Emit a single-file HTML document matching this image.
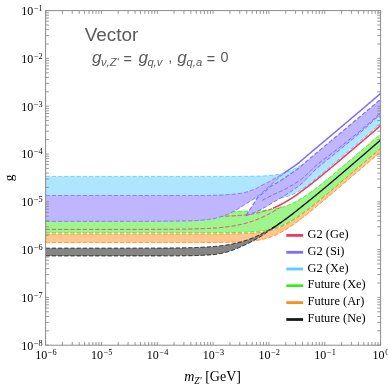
<!DOCTYPE html><html><head><meta charset="utf-8"><title>Vector</title><style>
html,body{margin:0;padding:0;background:#fff;}
#c{position:relative;width:388px;height:388px;overflow:hidden;background:#fff;font-family:"Liberation Serif",serif;color:#000;}
.t{position:absolute;white-space:nowrap;line-height:1;filter:grayscale(1);}
.yl{font-size:12px;text-align:right;width:60px;}
.xl{font-size:12px;text-align:center;width:60px;}
sup{font-size:8.3px;vertical-align:baseline;position:relative;top:-3.9px;letter-spacing:0;margin-left:0.7px}
.lg{font-size:12.4px;left:307.6px;}
.sans{font-family:"Liberation Sans",sans-serif;color:#5a5a5a;}
</style></head><body><div id="c">
<svg width="388" height="388" viewBox="0 0 388 388" style="position:absolute;left:0;top:0">
<defs><clipPath id="cp"><rect x="45.6" y="10.6" width="335.0" height="334.59999999999997"/></clipPath></defs>
<g clip-path="url(#cp)">
<path d="M45.60,176.40 L46.60,176.40 L47.60,176.40 L48.60,176.40 L49.60,176.40 L50.60,176.40 L51.60,176.40 L52.60,176.40 L53.60,176.40 L54.60,176.40 L55.60,176.40 L56.60,176.40 L57.60,176.40 L58.60,176.40 L59.60,176.40 L60.60,176.40 L61.60,176.40 L62.60,176.40 L63.60,176.40 L64.60,176.40 L65.60,176.40 L66.60,176.40 L67.60,176.40 L68.60,176.40 L69.60,176.40 L70.60,176.40 L71.60,176.40 L72.60,176.40 L73.60,176.40 L74.60,176.40 L75.60,176.40 L76.60,176.40 L77.60,176.40 L78.60,176.40 L79.60,176.40 L80.60,176.40 L81.60,176.40 L82.60,176.40 L83.60,176.40 L84.60,176.40 L85.60,176.40 L86.60,176.40 L87.60,176.40 L88.60,176.40 L89.60,176.40 L90.60,176.40 L91.60,176.40 L92.60,176.40 L93.60,176.40 L94.60,176.40 L95.60,176.40 L96.60,176.40 L97.60,176.40 L98.60,176.40 L99.60,176.40 L100.60,176.40 L101.60,176.40 L102.60,176.40 L103.60,176.40 L104.60,176.40 L105.60,176.40 L106.60,176.40 L107.60,176.40 L108.60,176.40 L109.60,176.40 L110.60,176.40 L111.60,176.40 L112.60,176.40 L113.60,176.40 L114.60,176.40 L115.60,176.40 L116.60,176.40 L117.60,176.40 L118.60,176.40 L119.60,176.40 L120.60,176.40 L121.60,176.40 L122.60,176.40 L123.60,176.40 L124.60,176.40 L125.60,176.40 L126.60,176.40 L127.60,176.40 L128.60,176.40 L129.60,176.40 L130.60,176.40 L131.60,176.40 L132.60,176.40 L133.60,176.40 L134.60,176.40 L135.60,176.40 L136.60,176.40 L137.60,176.40 L138.60,176.40 L139.60,176.40 L140.60,176.40 L141.60,176.40 L142.60,176.40 L143.60,176.40 L144.60,176.40 L145.60,176.40 L146.60,176.40 L147.60,176.40 L148.60,176.40 L149.60,176.40 L150.60,176.40 L151.60,176.40 L152.60,176.40 L153.60,176.40 L154.60,176.40 L155.60,176.40 L156.60,176.40 L157.60,176.40 L158.60,176.40 L159.60,176.40 L160.60,176.40 L161.60,176.40 L162.60,176.40 L163.60,176.40 L164.60,176.40 L165.60,176.40 L166.60,176.40 L167.60,176.40 L168.60,176.40 L169.60,176.40 L170.60,176.40 L171.60,176.40 L172.60,176.40 L173.60,176.40 L174.60,176.40 L175.60,176.40 L176.60,176.40 L177.60,176.40 L178.60,176.40 L179.60,176.40 L180.60,176.40 L181.60,176.40 L182.60,176.40 L183.60,176.40 L184.60,176.40 L185.60,176.40 L186.60,176.40 L187.60,176.40 L188.60,176.40 L189.60,176.40 L190.60,176.40 L191.60,176.40 L192.60,176.40 L193.60,176.40 L194.60,176.40 L195.60,176.40 L196.60,176.40 L197.60,176.40 L198.60,176.40 L199.60,176.40 L200.60,176.40 L201.60,176.40 L202.60,176.40 L203.60,176.40 L204.60,176.40 L205.60,176.40 L206.60,176.40 L207.60,176.40 L208.60,176.40 L209.60,176.40 L210.60,176.40 L211.60,176.40 L212.60,176.40 L213.60,176.40 L214.60,176.40 L215.60,176.40 L216.60,176.40 L217.60,176.40 L218.60,176.40 L219.60,176.39 L220.60,176.39 L221.60,176.39 L222.60,176.39 L223.60,176.39 L224.60,176.39 L225.60,176.39 L226.60,176.39 L227.60,176.39 L228.60,176.39 L229.60,176.38 L230.60,176.38 L231.60,176.38 L232.60,176.38 L233.60,176.38 L234.60,176.37 L235.60,176.37 L236.60,176.37 L237.60,176.37 L238.60,176.36 L239.60,176.36 L240.60,176.35 L241.60,176.35 L242.60,176.34 L243.60,176.34 L244.60,176.33 L245.60,176.32 L246.60,176.31 L247.60,176.30 L248.60,176.29 L249.60,176.28 L250.60,176.27 L251.60,176.26 L252.60,176.24 L253.60,176.22 L254.60,176.20 L255.60,176.18 L256.60,176.16 L257.60,176.13 L258.60,176.10 L259.60,176.07 L260.60,176.04 L261.60,176.00 L262.60,175.96 L263.60,175.91 L264.60,175.86 L265.60,175.80 L266.60,175.74 L267.60,175.67 L268.60,175.60 L269.60,175.51 L270.60,175.42 L271.60,175.32 L272.60,175.21 L273.60,175.09 L274.60,174.96 L275.60,174.82 L276.60,174.67 L277.60,174.50 L278.60,174.32 L279.60,174.12 L280.60,173.91 L281.60,173.68 L282.60,173.43 L283.60,173.16 L284.60,172.87 L285.60,172.57 L286.60,172.24 L287.60,171.89 L288.60,171.52 L289.60,171.13 L290.60,170.72 L291.60,170.28 L292.60,169.83 L293.60,169.35 L294.60,168.85 L295.60,168.33 L296.60,167.78 L297.60,167.22 L298.60,166.64 L299.60,166.04 L300.60,165.42 L301.60,164.78 L302.60,164.13 L303.60,163.46 L304.60,162.78 L305.60,162.08 L306.60,161.37 L307.60,160.65 L308.60,159.91 L309.60,159.17 L310.60,158.42 L311.60,157.65 L312.60,156.88 L313.60,156.11 L314.60,155.32 L315.60,154.53 L316.60,153.73 L317.60,152.93 L318.60,152.12 L319.60,151.31 L320.60,150.49 L321.60,149.67 L322.60,148.85 L323.60,148.02 L324.60,147.19 L325.60,146.36 L326.60,145.53 L327.60,144.69 L328.60,143.85 L329.60,143.01 L330.60,142.17 L331.60,141.33 L332.60,140.48 L333.60,139.64 L334.60,138.79 L335.60,137.94 L336.60,137.10 L337.60,136.25 L338.60,135.40 L339.60,134.55 L340.60,133.70 L341.60,132.84 L342.60,131.99 L343.60,131.14 L344.60,130.29 L345.60,129.44 L346.60,128.58 L347.60,127.73 L348.60,126.87 L349.60,126.02 L350.60,125.17 L351.60,124.31 L352.60,123.46 L353.60,122.60 L354.60,121.75 L355.60,120.89 L356.60,120.04 L357.60,119.18 L358.60,118.33 L359.60,117.47 L360.60,116.62 L361.60,115.76 L362.60,114.91 L363.60,114.05 L364.60,113.19 L365.60,112.34 L366.60,111.48 L367.60,110.63 L368.60,109.77 L369.60,108.91 L370.60,108.06 L371.60,107.20 L372.60,106.35 L373.60,105.49 L374.60,104.64 L375.60,103.78 L376.60,102.92 L377.60,102.07 L378.60,101.21 L379.60,100.36 L380.60,99.50 L380.60,123.50 L379.60,124.36 L378.60,125.21 L377.60,126.07 L376.60,126.92 L375.60,127.78 L374.60,128.64 L373.60,129.49 L372.60,130.35 L371.60,131.20 L370.60,132.06 L369.60,132.92 L368.60,133.77 L367.60,134.63 L366.60,135.49 L365.60,136.34 L364.60,137.20 L363.60,138.05 L362.60,138.91 L361.60,139.77 L360.60,140.62 L359.60,141.48 L358.60,142.33 L357.60,143.19 L356.60,144.04 L355.60,144.90 L354.60,145.76 L353.60,146.61 L352.60,147.47 L351.60,148.32 L350.60,149.18 L349.60,150.03 L348.60,150.89 L347.60,151.74 L346.60,152.60 L345.60,153.46 L344.60,154.31 L343.60,155.16 L342.60,156.02 L341.60,156.87 L340.60,157.73 L339.60,158.58 L338.60,159.44 L337.60,160.29 L336.60,161.14 L335.60,161.99 L334.60,162.85 L333.60,163.70 L332.60,164.55 L331.60,165.40 L330.60,166.25 L329.60,167.10 L328.60,167.95 L327.60,168.79 L326.60,169.64 L325.60,170.48 L324.60,171.32 L323.60,172.16 L322.60,173.00 L321.60,173.84 L320.60,174.67 L319.60,175.50 L318.60,176.33 L317.60,177.16 L316.60,177.98 L315.60,178.79 L314.60,179.60 L313.60,180.41 L312.60,181.21 L311.60,182.00 L310.60,182.78 L309.60,183.56 L308.60,184.32 L307.60,185.08 L306.60,185.82 L305.60,186.55 L304.60,187.27 L303.60,187.97 L302.60,188.66 L301.60,189.33 L300.60,189.98 L299.60,190.61 L298.60,191.21 L297.60,191.80 L296.60,192.36 L295.60,192.90 L294.60,193.42 L293.60,193.90 L292.60,194.36 L291.60,194.80 L290.60,195.21 L289.60,195.59 L288.60,195.95 L287.60,196.28 L286.60,196.59 L285.60,196.87 L284.60,197.13 L283.60,197.37 L282.60,197.58 L281.60,197.78 L280.60,197.96 L279.60,198.12 L278.60,198.27 L277.60,198.40 L276.60,198.52 L275.60,198.63 L274.60,198.72 L273.60,198.81 L272.60,198.89 L271.60,198.96 L270.60,199.02 L269.60,199.07 L268.60,199.12 L267.60,199.16 L266.60,199.20 L265.60,199.24 L264.60,199.27 L263.60,199.29 L262.60,199.32 L261.60,199.34 L260.60,199.36 L259.60,199.37 L258.60,199.39 L257.60,199.40 L256.60,199.41 L255.60,199.42 L254.60,199.43 L253.60,199.44 L252.60,199.45 L251.60,199.45 L250.60,199.46 L249.60,199.46 L248.60,199.47 L247.60,199.47 L246.60,199.47 L245.60,199.48 L244.60,199.48 L243.60,199.48 L242.60,199.48 L241.60,199.49 L240.60,199.49 L239.60,199.49 L238.60,199.49 L237.60,199.49 L236.60,199.49 L235.60,199.49 L234.60,199.49 L233.60,199.49 L232.60,199.50 L231.60,199.50 L230.60,199.50 L229.60,199.50 L228.60,199.50 L227.60,199.50 L226.60,199.50 L225.60,199.50 L224.60,199.50 L223.60,199.50 L222.60,199.50 L221.60,199.50 L220.60,199.50 L219.60,199.50 L218.60,199.50 L217.60,199.50 L216.60,199.50 L215.60,199.50 L214.60,199.50 L213.60,199.50 L212.60,199.50 L211.60,199.50 L210.60,199.50 L209.60,199.50 L208.60,199.50 L207.60,199.50 L206.60,199.50 L205.60,199.50 L204.60,199.50 L203.60,199.50 L202.60,199.50 L201.60,199.50 L200.60,199.50 L199.60,199.50 L198.60,199.50 L197.60,199.50 L196.60,199.50 L195.60,199.50 L194.60,199.50 L193.60,199.50 L192.60,199.50 L191.60,199.50 L190.60,199.50 L189.60,199.50 L188.60,199.50 L187.60,199.50 L186.60,199.50 L185.60,199.50 L184.60,199.50 L183.60,199.50 L182.60,199.50 L181.60,199.50 L180.60,199.50 L179.60,199.50 L178.60,199.50 L177.60,199.50 L176.60,199.50 L175.60,199.50 L174.60,199.50 L173.60,199.50 L172.60,199.50 L171.60,199.50 L170.60,199.50 L169.60,199.50 L168.60,199.50 L167.60,199.50 L166.60,199.50 L165.60,199.50 L164.60,199.50 L163.60,199.50 L162.60,199.50 L161.60,199.50 L160.60,199.50 L159.60,199.50 L158.60,199.50 L157.60,199.50 L156.60,199.50 L155.60,199.50 L154.60,199.50 L153.60,199.50 L152.60,199.50 L151.60,199.50 L150.60,199.50 L149.60,199.50 L148.60,199.50 L147.60,199.50 L146.60,199.50 L145.60,199.50 L144.60,199.50 L143.60,199.50 L142.60,199.50 L141.60,199.50 L140.60,199.50 L139.60,199.50 L138.60,199.50 L137.60,199.50 L136.60,199.50 L135.60,199.50 L134.60,199.50 L133.60,199.50 L132.60,199.50 L131.60,199.50 L130.60,199.50 L129.60,199.50 L128.60,199.50 L127.60,199.50 L126.60,199.50 L125.60,199.50 L124.60,199.50 L123.60,199.50 L122.60,199.50 L121.60,199.50 L120.60,199.50 L119.60,199.50 L118.60,199.50 L117.60,199.50 L116.60,199.50 L115.60,199.50 L114.60,199.50 L113.60,199.50 L112.60,199.50 L111.60,199.50 L110.60,199.50 L109.60,199.50 L108.60,199.50 L107.60,199.50 L106.60,199.50 L105.60,199.50 L104.60,199.50 L103.60,199.50 L102.60,199.50 L101.60,199.50 L100.60,199.50 L99.60,199.50 L98.60,199.50 L97.60,199.50 L96.60,199.50 L95.60,199.50 L94.60,199.50 L93.60,199.50 L92.60,199.50 L91.60,199.50 L90.60,199.50 L89.60,199.50 L88.60,199.50 L87.60,199.50 L86.60,199.50 L85.60,199.50 L84.60,199.50 L83.60,199.50 L82.60,199.50 L81.60,199.50 L80.60,199.50 L79.60,199.50 L78.60,199.50 L77.60,199.50 L76.60,199.50 L75.60,199.50 L74.60,199.50 L73.60,199.50 L72.60,199.50 L71.60,199.50 L70.60,199.50 L69.60,199.50 L68.60,199.50 L67.60,199.50 L66.60,199.50 L65.60,199.50 L64.60,199.50 L63.60,199.50 L62.60,199.50 L61.60,199.50 L60.60,199.50 L59.60,199.50 L58.60,199.50 L57.60,199.50 L56.60,199.50 L55.60,199.50 L54.60,199.50 L53.60,199.50 L52.60,199.50 L51.60,199.50 L50.60,199.50 L49.60,199.50 L48.60,199.50 L47.60,199.50 L46.60,199.50 L45.60,199.50Z" fill="#AEE6FF"/>
<path d="M45.60,176.40 L46.60,176.40 L47.60,176.40 L48.60,176.40 L49.60,176.40 L50.60,176.40 L51.60,176.40 L52.60,176.40 L53.60,176.40 L54.60,176.40 L55.60,176.40 L56.60,176.40 L57.60,176.40 L58.60,176.40 L59.60,176.40 L60.60,176.40 L61.60,176.40 L62.60,176.40 L63.60,176.40 L64.60,176.40 L65.60,176.40 L66.60,176.40 L67.60,176.40 L68.60,176.40 L69.60,176.40 L70.60,176.40 L71.60,176.40 L72.60,176.40 L73.60,176.40 L74.60,176.40 L75.60,176.40 L76.60,176.40 L77.60,176.40 L78.60,176.40 L79.60,176.40 L80.60,176.40 L81.60,176.40 L82.60,176.40 L83.60,176.40 L84.60,176.40 L85.60,176.40 L86.60,176.40 L87.60,176.40 L88.60,176.40 L89.60,176.40 L90.60,176.40 L91.60,176.40 L92.60,176.40 L93.60,176.40 L94.60,176.40 L95.60,176.40 L96.60,176.40 L97.60,176.40 L98.60,176.40 L99.60,176.40 L100.60,176.40 L101.60,176.40 L102.60,176.40 L103.60,176.40 L104.60,176.40 L105.60,176.40 L106.60,176.40 L107.60,176.40 L108.60,176.40 L109.60,176.40 L110.60,176.40 L111.60,176.40 L112.60,176.40 L113.60,176.40 L114.60,176.40 L115.60,176.40 L116.60,176.40 L117.60,176.40 L118.60,176.40 L119.60,176.40 L120.60,176.40 L121.60,176.40 L122.60,176.40 L123.60,176.40 L124.60,176.40 L125.60,176.40 L126.60,176.40 L127.60,176.40 L128.60,176.40 L129.60,176.40 L130.60,176.40 L131.60,176.40 L132.60,176.40 L133.60,176.40 L134.60,176.40 L135.60,176.40 L136.60,176.40 L137.60,176.40 L138.60,176.40 L139.60,176.40 L140.60,176.40 L141.60,176.40 L142.60,176.40 L143.60,176.40 L144.60,176.40 L145.60,176.40 L146.60,176.40 L147.60,176.40 L148.60,176.40 L149.60,176.40 L150.60,176.40 L151.60,176.40 L152.60,176.40 L153.60,176.40 L154.60,176.40 L155.60,176.40 L156.60,176.40 L157.60,176.40 L158.60,176.40 L159.60,176.40 L160.60,176.40 L161.60,176.40 L162.60,176.40 L163.60,176.40 L164.60,176.40 L165.60,176.40 L166.60,176.40 L167.60,176.40 L168.60,176.40 L169.60,176.40 L170.60,176.40 L171.60,176.40 L172.60,176.40 L173.60,176.40 L174.60,176.40 L175.60,176.40 L176.60,176.40 L177.60,176.40 L178.60,176.40 L179.60,176.40 L180.60,176.40 L181.60,176.40 L182.60,176.40 L183.60,176.40 L184.60,176.40 L185.60,176.40 L186.60,176.40 L187.60,176.40 L188.60,176.40 L189.60,176.40 L190.60,176.40 L191.60,176.40 L192.60,176.40 L193.60,176.40 L194.60,176.40 L195.60,176.40 L196.60,176.40 L197.60,176.40 L198.60,176.40 L199.60,176.40 L200.60,176.40 L201.60,176.40 L202.60,176.40 L203.60,176.40 L204.60,176.40 L205.60,176.40 L206.60,176.40 L207.60,176.40 L208.60,176.40 L209.60,176.40 L210.60,176.40 L211.60,176.40 L212.60,176.40 L213.60,176.40 L214.60,176.40 L215.60,176.40 L216.60,176.40 L217.60,176.40 L218.60,176.40 L219.60,176.39 L220.60,176.39 L221.60,176.39 L222.60,176.39 L223.60,176.39 L224.60,176.39 L225.60,176.39 L226.60,176.39 L227.60,176.39 L228.60,176.39 L229.60,176.38 L230.60,176.38 L231.60,176.38 L232.60,176.38 L233.60,176.38 L234.60,176.37 L235.60,176.37 L236.60,176.37 L237.60,176.37 L238.60,176.36 L239.60,176.36 L240.60,176.35 L241.60,176.35 L242.60,176.34 L243.60,176.34 L244.60,176.33 L245.60,176.32 L246.60,176.31 L247.60,176.30 L248.60,176.29 L249.60,176.28 L250.60,176.27 L251.60,176.26 L252.60,176.24 L253.60,176.22 L254.60,176.20 L255.60,176.18 L256.60,176.16 L257.60,176.13 L258.60,176.10 L259.60,176.07 L260.60,176.04 L261.60,176.00 L262.60,175.96 L263.60,175.91 L264.60,175.86 L265.60,175.80 L266.60,175.74 L267.60,175.67 L268.60,175.60 L269.60,175.51 L270.60,175.42 L271.60,175.32 L272.60,175.21 L273.60,175.09 L274.60,174.96 L275.60,174.82 L276.60,174.67 L277.60,174.50 L278.60,174.32 L279.60,174.12 L280.60,173.91 L281.60,173.68 L282.60,173.43 L283.60,173.16 L284.60,172.87 L285.60,172.57 L286.60,172.24 L287.60,171.89 L288.60,171.52 L289.60,171.13 L290.60,170.72 L291.60,170.28 L292.60,169.83 L293.60,169.35 L294.60,168.85 L295.60,168.33 L296.60,167.78 L297.60,167.22 L298.60,166.64 L299.60,166.04 L300.00,165.79" fill="none" stroke="#5CCCFF" stroke-width="1.0" stroke-dasharray="4.2 2" opacity="1.0"/>
<path d="M280.00,198.06 L281.00,197.89 L282.00,197.70 L283.00,197.50 L284.00,197.27 L285.00,197.03 L286.00,196.76 L287.00,196.47 L288.00,196.15 L289.00,195.81 L290.00,195.44 L291.00,195.05 L292.00,194.63 L293.00,194.18 L294.00,193.71 L295.00,193.21 L296.00,192.69 L297.00,192.14 L298.00,191.57 L299.00,190.97 L300.00,190.36 L301.00,189.72 L302.00,189.06 L303.00,188.39 L304.00,187.69 L305.00,186.98 L306.00,186.26 L307.00,185.53 L308.00,184.78 L309.00,184.02 L310.00,183.25 L311.00,182.47 L312.00,181.68 L313.00,180.89 L314.00,180.09 L315.00,179.28 L316.00,178.47 L317.00,177.65 L318.00,176.83 L319.00,176.00 L320.00,175.17 L321.00,174.34 L322.00,173.51 L323.00,172.67 L324.00,171.83 L325.00,170.99 L326.00,170.14 L327.00,169.30 L328.00,168.45 L329.00,167.61 L330.00,166.76 L331.00,165.91 L332.00,165.06 L333.00,164.21 L334.00,163.36 L335.00,162.51 L336.00,161.65 L337.00,160.80 L338.00,159.95 L339.00,159.09 L340.00,158.24 L341.00,157.39 L342.00,156.53 L343.00,155.68 L344.00,154.82 L345.00,153.97 L346.00,153.11 L347.00,152.26 L348.00,151.40 L349.00,150.55 L350.00,149.69 L351.00,148.84 L352.00,147.98 L353.00,147.13 L354.00,146.27 L355.00,145.41 L356.00,144.56 L357.00,143.70 L358.00,142.85 L359.00,141.99 L360.00,141.13 L361.00,140.28 L362.00,139.42 L363.00,138.57 L364.00,137.71 L365.00,136.85 L366.00,136.00 L367.00,135.14 L368.00,134.29 L369.00,133.43 L370.00,132.57 L371.00,131.72 L372.00,130.86 L373.00,130.01 L374.00,129.15 L375.00,128.29 L376.00,127.44 L377.00,126.58 L378.00,125.73 L379.00,124.87 L380.00,124.01 L380.60,123.50" fill="none" stroke="#5CCCFF" stroke-width="1.0" stroke-dasharray="4.2 2" opacity="1.0"/>
<path d="M45.60,211.50 L46.60,211.50 L47.60,211.50 L48.60,211.50 L49.60,211.50 L50.60,211.50 L51.60,211.50 L52.60,211.50 L53.60,211.50 L54.60,211.50 L55.60,211.50 L56.60,211.50 L57.60,211.50 L58.60,211.50 L59.60,211.50 L60.60,211.50 L61.60,211.50 L62.60,211.50 L63.60,211.50 L64.60,211.50 L65.60,211.50 L66.60,211.50 L67.60,211.50 L68.60,211.50 L69.60,211.50 L70.60,211.50 L71.60,211.50 L72.60,211.50 L73.60,211.50 L74.60,211.50 L75.60,211.50 L76.60,211.50 L77.60,211.50 L78.60,211.50 L79.60,211.50 L80.60,211.50 L81.60,211.50 L82.60,211.50 L83.60,211.50 L84.60,211.50 L85.60,211.50 L86.60,211.50 L87.60,211.50 L88.60,211.50 L89.60,211.50 L90.60,211.50 L91.60,211.50 L92.60,211.50 L93.60,211.50 L94.60,211.50 L95.60,211.50 L96.60,211.50 L97.60,211.50 L98.60,211.50 L99.60,211.50 L100.60,211.50 L101.60,211.50 L102.60,211.50 L103.60,211.50 L104.60,211.50 L105.60,211.50 L106.60,211.50 L107.60,211.50 L108.60,211.50 L109.60,211.50 L110.60,211.50 L111.60,211.50 L112.60,211.50 L113.60,211.50 L114.60,211.50 L115.60,211.50 L116.60,211.50 L117.60,211.50 L118.60,211.50 L119.60,211.50 L120.60,211.50 L121.60,211.50 L122.60,211.50 L123.60,211.50 L124.60,211.50 L125.60,211.50 L126.60,211.50 L127.60,211.50 L128.60,211.50 L129.60,211.50 L130.60,211.50 L131.60,211.50 L132.60,211.50 L133.60,211.50 L134.60,211.50 L135.60,211.50 L136.60,211.50 L137.60,211.50 L138.60,211.50 L139.60,211.50 L140.60,211.50 L141.60,211.50 L142.60,211.50 L143.60,211.50 L144.60,211.50 L145.60,211.50 L146.60,211.50 L147.60,211.50 L148.60,211.50 L149.60,211.50 L150.60,211.50 L151.60,211.50 L152.60,211.50 L153.60,211.50 L154.60,211.50 L155.60,211.50 L156.60,211.50 L157.60,211.50 L158.60,211.50 L159.60,211.50 L160.60,211.50 L161.60,211.50 L162.60,211.50 L163.60,211.50 L164.60,211.50 L165.60,211.50 L166.60,211.50 L167.60,211.50 L168.60,211.50 L169.60,211.50 L170.60,211.50 L171.60,211.50 L172.60,211.50 L173.60,211.50 L174.60,211.50 L175.60,211.50 L176.60,211.50 L177.60,211.50 L178.60,211.50 L179.60,211.50 L180.60,211.50 L181.60,211.50 L182.60,211.50 L183.60,211.50 L184.60,211.50 L185.60,211.50 L186.60,211.50 L187.60,211.50 L188.60,211.50 L189.60,211.50 L190.60,211.50 L191.60,211.50 L192.60,211.50 L193.60,211.50 L194.60,211.50 L195.60,211.50 L196.60,211.50 L197.60,211.49 L198.60,211.49 L199.60,211.49 L200.60,211.49 L201.60,211.49 L202.60,211.49 L203.60,211.49 L204.60,211.49 L205.60,211.49 L206.60,211.49 L207.60,211.49 L208.60,211.49 L209.60,211.49 L210.60,211.49 L211.60,211.48 L212.60,211.48 L213.60,211.48 L214.60,211.48 L215.60,211.48 L216.60,211.48 L217.60,211.47 L218.60,211.47 L219.60,211.47 L220.60,211.47 L221.60,211.46 L222.60,211.46 L223.60,211.46 L224.60,211.45 L225.60,211.45 L226.60,211.45 L227.60,211.44 L228.60,211.44 L229.60,211.43 L230.60,211.42 L231.60,211.42 L232.60,211.41 L233.60,211.40 L234.60,211.39 L235.60,211.39 L236.60,211.38 L237.60,211.37 L238.60,211.35 L239.60,211.34 L240.60,211.33 L241.60,211.31 L242.60,211.30 L243.60,211.28 L244.60,211.26 L245.60,211.24 L246.60,211.22 L247.60,211.20 L248.60,211.17 L249.60,211.14 L250.60,211.11 L251.60,211.08 L252.60,211.04 L253.60,211.00 L254.60,210.96 L255.60,210.92 L256.60,210.87 L257.60,210.82 L258.60,210.76 L259.60,210.70 L260.60,210.63 L261.60,210.56 L262.60,210.49 L263.60,210.40 L264.60,210.31 L265.60,210.22 L266.60,210.11 L267.60,210.00 L268.60,209.88 L269.60,209.76 L270.60,209.62 L271.60,209.47 L272.60,209.31 L273.60,209.15 L274.60,208.97 L275.60,208.78 L276.60,208.57 L277.60,208.35 L278.60,208.12 L279.60,207.88 L280.60,207.62 L281.60,207.34 L282.60,207.05 L283.60,206.75 L284.60,206.43 L285.60,206.09 L286.60,205.73 L287.60,205.36 L288.60,204.96 L289.60,204.56 L290.60,204.13 L291.60,203.69 L292.60,203.22 L293.60,202.74 L294.60,202.25 L295.60,201.73 L296.60,201.20 L297.60,200.66 L298.60,200.09 L299.60,199.52 L300.60,198.92 L301.60,198.31 L302.60,197.69 L303.60,197.05 L304.60,196.40 L305.60,195.74 L306.60,195.07 L307.60,194.38 L308.60,193.68 L309.60,192.98 L310.60,192.26 L311.60,191.53 L312.60,190.80 L313.60,190.05 L314.60,189.30 L315.60,188.54 L316.60,187.78 L317.60,187.01 L318.60,186.23 L319.60,185.44 L320.60,184.65 L321.60,183.86 L322.60,183.06 L323.60,182.26 L324.60,181.45 L325.60,180.64 L326.60,179.83 L327.60,179.01 L328.60,178.19 L329.60,177.37 L330.60,176.54 L331.60,175.71 L332.60,174.88 L333.60,174.05 L334.60,173.22 L335.60,172.38 L336.60,171.55 L337.60,170.71 L338.60,169.87 L339.60,169.03 L340.60,168.18 L341.60,167.34 L342.60,166.50 L343.60,165.65 L344.60,164.80 L345.60,163.96 L346.60,163.11 L347.60,162.26 L348.60,161.41 L349.60,160.56 L350.60,159.71 L351.60,158.86 L352.60,158.01 L353.60,157.16 L354.60,156.31 L355.60,155.46 L356.60,154.60 L357.60,153.75 L358.60,152.90 L359.60,152.04 L360.60,151.19 L361.60,150.34 L362.60,149.48 L363.60,148.63 L364.60,147.78 L365.60,146.92 L366.60,146.07 L367.60,145.21 L368.60,144.36 L369.60,143.50 L370.60,142.65 L371.60,141.79 L372.60,140.94 L373.60,140.08 L374.60,139.23 L375.60,138.37 L376.60,137.52 L377.60,136.66 L378.60,135.81 L379.60,134.95 L380.60,134.09 L380.60,148.30 L379.60,149.15 L378.60,150.01 L377.60,150.86 L376.60,151.72 L375.60,152.58 L374.60,153.43 L373.60,154.29 L372.60,155.14 L371.60,156.00 L370.60,156.85 L369.60,157.71 L368.60,158.57 L367.60,159.42 L366.60,160.28 L365.60,161.13 L364.60,161.99 L363.60,162.84 L362.60,163.70 L361.60,164.55 L360.60,165.41 L359.60,166.26 L358.60,167.12 L357.60,167.97 L356.60,168.82 L355.60,169.68 L354.60,170.53 L353.60,171.39 L352.60,172.24 L351.60,173.09 L350.60,173.95 L349.60,174.80 L348.60,175.65 L347.60,176.51 L346.60,177.36 L345.60,178.21 L344.60,179.06 L343.60,179.91 L342.60,180.76 L341.60,181.61 L340.60,182.46 L339.60,183.31 L338.60,184.16 L337.60,185.01 L336.60,185.85 L335.60,186.70 L334.60,187.55 L333.60,188.39 L332.60,189.23 L331.60,190.08 L330.60,190.92 L329.60,191.76 L328.60,192.60 L327.60,193.44 L326.60,194.27 L325.60,195.11 L324.60,195.94 L323.60,196.77 L322.60,197.60 L321.60,198.42 L320.60,199.25 L319.60,200.07 L318.60,200.88 L317.60,201.70 L316.60,202.51 L315.60,203.32 L314.60,204.12 L313.60,204.92 L312.60,205.71 L311.60,206.50 L310.60,207.29 L309.60,208.07 L308.60,208.84 L307.60,209.61 L306.60,210.37 L305.60,211.12 L304.60,211.87 L303.60,212.60 L302.60,213.33 L301.60,214.05 L300.60,214.76 L299.60,215.46 L298.60,216.15 L297.60,216.82 L296.60,217.49 L295.60,218.14 L294.60,218.78 L293.60,219.40 L292.60,220.02 L291.60,220.61 L290.60,221.19 L289.60,221.76 L288.60,222.31 L287.60,222.84 L286.60,223.36 L285.60,223.86 L284.60,224.34 L283.60,224.81 L282.60,225.25 L281.60,225.68 L280.60,226.09 L279.60,226.49 L278.60,226.86 L277.60,227.22 L276.60,227.57 L275.60,227.89 L274.60,228.20 L273.60,228.49 L272.60,228.77 L271.60,229.03 L270.60,229.28 L269.60,229.52 L268.60,229.73 L267.60,229.94 L266.60,230.13 L265.60,230.32 L264.60,230.49 L263.60,230.64 L262.60,230.79 L261.60,230.93 L260.60,231.06 L259.60,231.18 L258.60,231.29 L257.60,231.40 L256.60,231.50 L255.60,231.59 L254.60,231.67 L253.60,231.75 L252.60,231.82 L251.60,231.89 L250.60,231.95 L249.60,232.01 L248.60,232.06 L247.60,232.11 L246.60,232.16 L245.60,232.20 L244.60,232.24 L243.60,232.27 L242.60,232.31 L241.60,232.34 L240.60,232.36 L239.60,232.39 L238.60,232.41 L237.60,232.44 L236.60,232.46 L235.60,232.48 L234.60,232.49 L233.60,232.51 L232.60,232.53 L231.60,232.54 L230.60,232.55 L229.60,232.56 L228.60,232.57 L227.60,232.58 L226.60,232.59 L225.60,232.60 L224.60,232.61 L223.60,232.62 L222.60,232.62 L221.60,232.63 L220.60,232.63 L219.60,232.64 L218.60,232.64 L217.60,232.65 L216.60,232.65 L215.60,232.66 L214.60,232.66 L213.60,232.66 L212.60,232.67 L211.60,232.67 L210.60,232.67 L209.60,232.67 L208.60,232.68 L207.60,232.68 L206.60,232.68 L205.60,232.68 L204.60,232.68 L203.60,232.68 L202.60,232.69 L201.60,232.69 L200.60,232.69 L199.60,232.69 L198.60,232.69 L197.60,232.69 L196.60,232.69 L195.60,232.69 L194.60,232.69 L193.60,232.69 L192.60,232.69 L191.60,232.69 L190.60,232.69 L189.60,232.69 L188.60,232.70 L187.60,232.70 L186.60,232.70 L185.60,232.70 L184.60,232.70 L183.60,232.70 L182.60,232.70 L181.60,232.70 L180.60,232.70 L179.60,232.70 L178.60,232.70 L177.60,232.70 L176.60,232.70 L175.60,232.70 L174.60,232.70 L173.60,232.70 L172.60,232.70 L171.60,232.70 L170.60,232.70 L169.60,232.70 L168.60,232.70 L167.60,232.70 L166.60,232.70 L165.60,232.70 L164.60,232.70 L163.60,232.70 L162.60,232.70 L161.60,232.70 L160.60,232.70 L159.60,232.70 L158.60,232.70 L157.60,232.70 L156.60,232.70 L155.60,232.70 L154.60,232.70 L153.60,232.70 L152.60,232.70 L151.60,232.70 L150.60,232.70 L149.60,232.70 L148.60,232.70 L147.60,232.70 L146.60,232.70 L145.60,232.70 L144.60,232.70 L143.60,232.70 L142.60,232.70 L141.60,232.70 L140.60,232.70 L139.60,232.70 L138.60,232.70 L137.60,232.70 L136.60,232.70 L135.60,232.70 L134.60,232.70 L133.60,232.70 L132.60,232.70 L131.60,232.70 L130.60,232.70 L129.60,232.70 L128.60,232.70 L127.60,232.70 L126.60,232.70 L125.60,232.70 L124.60,232.70 L123.60,232.70 L122.60,232.70 L121.60,232.70 L120.60,232.70 L119.60,232.70 L118.60,232.70 L117.60,232.70 L116.60,232.70 L115.60,232.70 L114.60,232.70 L113.60,232.70 L112.60,232.70 L111.60,232.70 L110.60,232.70 L109.60,232.70 L108.60,232.70 L107.60,232.70 L106.60,232.70 L105.60,232.70 L104.60,232.70 L103.60,232.70 L102.60,232.70 L101.60,232.70 L100.60,232.70 L99.60,232.70 L98.60,232.70 L97.60,232.70 L96.60,232.70 L95.60,232.70 L94.60,232.70 L93.60,232.70 L92.60,232.70 L91.60,232.70 L90.60,232.70 L89.60,232.70 L88.60,232.70 L87.60,232.70 L86.60,232.70 L85.60,232.70 L84.60,232.70 L83.60,232.70 L82.60,232.70 L81.60,232.70 L80.60,232.70 L79.60,232.70 L78.60,232.70 L77.60,232.70 L76.60,232.70 L75.60,232.70 L74.60,232.70 L73.60,232.70 L72.60,232.70 L71.60,232.70 L70.60,232.70 L69.60,232.70 L68.60,232.70 L67.60,232.70 L66.60,232.70 L65.60,232.70 L64.60,232.70 L63.60,232.70 L62.60,232.70 L61.60,232.70 L60.60,232.70 L59.60,232.70 L58.60,232.70 L57.60,232.70 L56.60,232.70 L55.60,232.70 L54.60,232.70 L53.60,232.70 L52.60,232.70 L51.60,232.70 L50.60,232.70 L49.60,232.70 L48.60,232.70 L47.60,232.70 L46.60,232.70 L45.60,232.70Z" fill="#9EF58E"/>
<path d="M45.60,211.50 L46.60,211.50 L47.60,211.50 L48.60,211.50 L49.60,211.50 L50.60,211.50 L51.60,211.50 L52.60,211.50 L53.60,211.50 L54.60,211.50 L55.60,211.50 L56.60,211.50 L57.60,211.50 L58.60,211.50 L59.60,211.50 L60.60,211.50 L61.60,211.50 L62.60,211.50 L63.60,211.50 L64.60,211.50 L65.60,211.50 L66.60,211.50 L67.60,211.50 L68.60,211.50 L69.60,211.50 L70.60,211.50 L71.60,211.50 L72.60,211.50 L73.60,211.50 L74.60,211.50 L75.60,211.50 L76.60,211.50 L77.60,211.50 L78.60,211.50 L79.60,211.50 L80.60,211.50 L81.60,211.50 L82.60,211.50 L83.60,211.50 L84.60,211.50 L85.60,211.50 L86.60,211.50 L87.60,211.50 L88.60,211.50 L89.60,211.50 L90.60,211.50 L91.60,211.50 L92.60,211.50 L93.60,211.50 L94.60,211.50 L95.60,211.50 L96.60,211.50 L97.60,211.50 L98.60,211.50 L99.60,211.50 L100.60,211.50 L101.60,211.50 L102.60,211.50 L103.60,211.50 L104.60,211.50 L105.60,211.50 L106.60,211.50 L107.60,211.50 L108.60,211.50 L109.60,211.50 L110.60,211.50 L111.60,211.50 L112.60,211.50 L113.60,211.50 L114.60,211.50 L115.60,211.50 L116.60,211.50 L117.60,211.50 L118.60,211.50 L119.60,211.50 L120.60,211.50 L121.60,211.50 L122.60,211.50 L123.60,211.50 L124.60,211.50 L125.60,211.50 L126.60,211.50 L127.60,211.50 L128.60,211.50 L129.60,211.50 L130.60,211.50 L131.60,211.50 L132.60,211.50 L133.60,211.50 L134.60,211.50 L135.60,211.50 L136.60,211.50 L137.60,211.50 L138.60,211.50 L139.60,211.50 L140.60,211.50 L141.60,211.50 L142.60,211.50 L143.60,211.50 L144.60,211.50 L145.60,211.50 L146.60,211.50 L147.60,211.50 L148.60,211.50 L149.60,211.50 L150.60,211.50 L151.60,211.50 L152.60,211.50 L153.60,211.50 L154.60,211.50 L155.60,211.50 L156.60,211.50 L157.60,211.50 L158.60,211.50 L159.60,211.50 L160.60,211.50 L161.60,211.50 L162.60,211.50 L163.60,211.50 L164.60,211.50 L165.60,211.50 L166.60,211.50 L167.60,211.50 L168.60,211.50 L169.60,211.50 L170.60,211.50 L171.60,211.50 L172.60,211.50 L173.60,211.50 L174.60,211.50 L175.60,211.50 L176.60,211.50 L177.60,211.50 L178.60,211.50 L179.60,211.50 L180.60,211.50 L181.60,211.50 L182.60,211.50 L183.60,211.50 L184.60,211.50 L185.60,211.50 L186.60,211.50 L187.60,211.50 L188.60,211.50 L189.60,211.50 L190.60,211.50 L191.60,211.50 L192.60,211.50 L193.60,211.50 L194.60,211.50 L195.60,211.50 L196.60,211.50 L197.60,211.49 L198.60,211.49 L199.60,211.49 L200.60,211.49 L201.60,211.49 L202.60,211.49 L203.60,211.49 L204.60,211.49 L205.60,211.49 L206.60,211.49 L207.60,211.49 L208.60,211.49 L209.60,211.49 L210.60,211.49 L211.60,211.48 L212.60,211.48 L213.60,211.48 L214.60,211.48 L215.60,211.48 L216.60,211.48 L217.60,211.47 L218.60,211.47 L219.60,211.47 L220.60,211.47 L221.60,211.46 L222.60,211.46 L223.60,211.46 L224.60,211.45 L225.60,211.45 L226.60,211.45 L227.60,211.44 L228.60,211.44 L229.60,211.43 L230.60,211.42 L231.60,211.42 L232.60,211.41 L233.60,211.40 L234.60,211.39 L235.60,211.39 L236.60,211.38 L237.60,211.37 L238.60,211.35 L239.60,211.34 L240.60,211.33 L241.60,211.31 L242.60,211.30 L243.60,211.28 L244.60,211.26 L245.60,211.24 L246.60,211.22 L247.60,211.20 L248.60,211.17 L249.60,211.14 L250.60,211.11 L251.60,211.08 L252.60,211.04 L253.60,211.00 L254.60,210.96 L255.60,210.92 L256.60,210.87 L257.60,210.82 L258.60,210.76 L259.60,210.70 L260.60,210.63 L261.60,210.56 L262.60,210.49 L263.60,210.40 L264.60,210.31 L265.60,210.22 L266.60,210.11 L267.60,210.00 L268.60,209.88 L269.60,209.76 L270.60,209.62 L271.60,209.47 L272.60,209.31 L273.60,209.15 L274.60,208.97 L275.60,208.78 L276.60,208.57 L277.60,208.35 L278.60,208.12 L279.60,207.88 L280.60,207.62 L281.60,207.34 L282.60,207.05 L283.60,206.75 L284.60,206.43 L285.60,206.09 L286.60,205.73 L287.60,205.36 L288.60,204.96 L289.60,204.56 L290.60,204.13 L291.60,203.69 L292.60,203.22 L293.60,202.74 L294.60,202.25 L295.60,201.73 L296.60,201.20 L297.60,200.66 L298.60,200.09 L299.60,199.52 L300.60,198.92 L301.60,198.31 L302.60,197.69 L303.60,197.05 L304.60,196.40 L305.60,195.74 L306.60,195.07 L307.60,194.38 L308.60,193.68 L309.60,192.98 L310.60,192.26 L311.60,191.53 L312.60,190.80 L313.60,190.05 L314.60,189.30 L315.60,188.54 L316.60,187.78 L317.60,187.01 L318.60,186.23 L319.60,185.44 L320.60,184.65 L321.60,183.86 L322.60,183.06 L323.60,182.26 L324.60,181.45 L325.60,180.64 L326.60,179.83 L327.60,179.01 L328.60,178.19 L329.60,177.37 L330.60,176.54 L331.60,175.71 L332.60,174.88 L333.60,174.05 L334.60,173.22 L335.60,172.38 L336.60,171.55 L337.60,170.71 L338.60,169.87 L339.60,169.03 L340.60,168.18 L341.60,167.34 L342.60,166.50 L343.60,165.65 L344.60,164.80 L345.60,163.96 L346.60,163.11 L347.60,162.26 L348.60,161.41 L349.60,160.56 L350.60,159.71 L351.60,158.86 L352.60,158.01 L353.60,157.16 L354.60,156.31 L355.60,155.46 L356.60,154.60 L357.60,153.75 L358.60,152.90 L359.60,152.04 L360.60,151.19 L361.60,150.34 L362.60,149.48 L363.60,148.63 L364.60,147.78 L365.60,146.92 L366.60,146.07 L367.60,145.21 L368.60,144.36 L369.60,143.50 L370.60,142.65 L371.60,141.79 L372.60,140.94 L373.60,140.08 L374.60,139.23 L375.60,138.37 L376.60,137.52 L377.60,136.66 L378.60,135.81 L379.60,134.95 L380.60,134.09" fill="none" stroke="#3DEB1C" stroke-width="1.0" stroke-dasharray="4.2 2" opacity="1.0"/>
<path d="M45.60,232.70 L46.60,232.70 L47.60,232.70 L48.60,232.70 L49.60,232.70 L50.60,232.70 L51.60,232.70 L52.60,232.70 L53.60,232.70 L54.60,232.70 L55.60,232.70 L56.60,232.70 L57.60,232.70 L58.60,232.70 L59.60,232.70 L60.60,232.70 L61.60,232.70 L62.60,232.70 L63.60,232.70 L64.60,232.70 L65.60,232.70 L66.60,232.70 L67.60,232.70 L68.60,232.70 L69.60,232.70 L70.60,232.70 L71.60,232.70 L72.60,232.70 L73.60,232.70 L74.60,232.70 L75.60,232.70 L76.60,232.70 L77.60,232.70 L78.60,232.70 L79.60,232.70 L80.60,232.70 L81.60,232.70 L82.60,232.70 L83.60,232.70 L84.60,232.70 L85.60,232.70 L86.60,232.70 L87.60,232.70 L88.60,232.70 L89.60,232.70 L90.60,232.70 L91.60,232.70 L92.60,232.70 L93.60,232.70 L94.60,232.70 L95.60,232.70 L96.60,232.70 L97.60,232.70 L98.60,232.70 L99.60,232.70 L100.60,232.70 L101.60,232.70 L102.60,232.70 L103.60,232.70 L104.60,232.70 L105.60,232.70 L106.60,232.70 L107.60,232.70 L108.60,232.70 L109.60,232.70 L110.60,232.70 L111.60,232.70 L112.60,232.70 L113.60,232.70 L114.60,232.70 L115.60,232.70 L116.60,232.70 L117.60,232.70 L118.60,232.70 L119.60,232.70 L120.60,232.70 L121.60,232.70 L122.60,232.70 L123.60,232.70 L124.60,232.70 L125.60,232.70 L126.60,232.70 L127.60,232.70 L128.60,232.70 L129.60,232.70 L130.60,232.70 L131.60,232.70 L132.60,232.70 L133.60,232.70 L134.60,232.70 L135.60,232.70 L136.60,232.70 L137.60,232.70 L138.60,232.70 L139.60,232.70 L140.60,232.70 L141.60,232.70 L142.60,232.70 L143.60,232.70 L144.60,232.70 L145.60,232.70 L146.60,232.70 L147.60,232.70 L148.60,232.70 L149.60,232.70 L150.60,232.70 L151.60,232.70 L152.60,232.70 L153.60,232.70 L154.60,232.70 L155.60,232.70 L156.60,232.70 L157.60,232.70 L158.60,232.70 L159.60,232.70 L160.60,232.70 L161.60,232.70 L162.60,232.70 L163.60,232.70 L164.60,232.70 L165.60,232.70 L166.60,232.70 L167.60,232.70 L168.60,232.70 L169.60,232.70 L170.60,232.70 L171.60,232.70 L172.60,232.70 L173.60,232.70 L174.60,232.70 L175.60,232.70 L176.60,232.70 L177.60,232.70 L178.60,232.70 L179.60,232.70 L180.60,232.70 L181.60,232.70 L182.60,232.70 L183.60,232.70 L184.60,232.70 L185.60,232.70 L186.60,232.70 L187.60,232.70 L188.60,232.70 L189.60,232.69 L190.60,232.69 L191.60,232.69 L192.60,232.69 L193.60,232.69 L194.60,232.69 L195.60,232.69 L196.60,232.69 L197.60,232.69 L198.60,232.69 L199.60,232.69 L200.60,232.69 L201.60,232.69 L202.60,232.69 L203.60,232.68 L204.60,232.68 L205.60,232.68 L206.60,232.68 L207.60,232.68 L208.60,232.68 L209.60,232.67 L210.60,232.67 L211.60,232.67 L212.60,232.67 L213.60,232.66 L214.60,232.66 L215.60,232.66 L216.60,232.65 L217.60,232.65 L218.60,232.64 L219.60,232.64 L220.60,232.63 L221.60,232.63 L222.60,232.62 L223.60,232.62 L224.60,232.61 L225.60,232.60 L226.60,232.59 L227.60,232.58 L228.60,232.57 L229.60,232.56 L230.60,232.55 L231.60,232.54 L232.60,232.53 L233.60,232.51 L234.60,232.49 L235.60,232.48 L236.60,232.46 L237.60,232.44 L238.60,232.41 L239.60,232.39 L240.60,232.36 L241.60,232.34 L242.60,232.31 L243.60,232.27 L244.60,232.24 L245.60,232.20 L246.60,232.16 L247.60,232.11 L248.60,232.06 L249.60,232.01 L250.60,231.95 L251.60,231.89 L252.60,231.82 L253.60,231.75 L254.60,231.67 L255.60,231.59 L256.60,231.50 L257.60,231.40 L258.60,231.29 L259.60,231.18 L260.60,231.06 L261.60,230.93 L262.60,230.79 L263.60,230.64 L264.60,230.49 L265.60,230.32 L266.60,230.13 L267.60,229.94 L268.60,229.73 L269.60,229.52 L270.60,229.28 L271.60,229.03 L272.60,228.77 L273.60,228.49 L274.60,228.20 L275.60,227.89 L276.60,227.57 L277.60,227.22 L278.60,226.86 L279.60,226.49 L280.60,226.09 L281.60,225.68 L282.60,225.25 L283.60,224.81 L284.60,224.34 L285.60,223.86 L286.60,223.36 L287.60,222.84 L288.60,222.31 L289.60,221.76 L290.60,221.19 L291.60,220.61 L292.60,220.02 L293.60,219.40 L294.60,218.78 L295.60,218.14 L296.60,217.49 L297.60,216.82 L298.60,216.15 L299.60,215.46 L300.60,214.76 L301.60,214.05 L302.60,213.33 L303.60,212.60 L304.60,211.87 L305.60,211.12 L306.60,210.37 L307.60,209.61 L308.60,208.84 L309.60,208.07 L310.60,207.29 L311.60,206.50 L312.60,205.71 L313.60,204.92 L314.60,204.12 L315.60,203.32 L316.60,202.51 L317.60,201.70 L318.60,200.88 L319.60,200.07 L320.60,199.25 L321.60,198.42 L322.60,197.60 L323.60,196.77 L324.60,195.94 L325.60,195.11 L326.60,194.27 L327.60,193.44 L328.60,192.60 L329.60,191.76 L330.60,190.92 L331.60,190.08 L332.60,189.23 L333.60,188.39 L334.60,187.55 L335.60,186.70 L336.60,185.85 L337.60,185.01 L338.60,184.16 L339.60,183.31 L340.60,182.46 L341.60,181.61 L342.60,180.76 L343.60,179.91 L344.60,179.06 L345.60,178.21 L346.60,177.36 L347.60,176.51 L348.60,175.65 L349.60,174.80 L350.60,173.95 L351.60,173.09 L352.60,172.24 L353.60,171.39 L354.60,170.53 L355.60,169.68 L356.60,168.82 L357.60,167.97 L358.60,167.12 L359.60,166.26 L360.60,165.41 L361.60,164.55 L362.60,163.70 L363.60,162.84 L364.60,161.99 L365.60,161.13 L366.60,160.28 L367.60,159.42 L368.60,158.57 L369.60,157.71 L370.60,156.85 L371.60,156.00 L372.60,155.14 L373.60,154.29 L374.60,153.43 L375.60,152.58 L376.60,151.72 L377.60,150.86 L378.60,150.01 L379.60,149.15 L380.60,148.30" fill="none" stroke="#3DEB1C" stroke-width="1.0" stroke-dasharray="4.2 2" opacity="1.0"/>
<path d="M45.60,234.00 L46.60,234.00 L47.60,234.00 L48.60,234.00 L49.60,234.00 L50.60,234.00 L51.60,234.00 L52.60,234.00 L53.60,234.00 L54.60,234.00 L55.60,234.00 L56.60,234.00 L57.60,234.00 L58.60,234.00 L59.60,234.00 L60.60,234.00 L61.60,234.00 L62.60,234.00 L63.60,234.00 L64.60,234.00 L65.60,234.00 L66.60,234.00 L67.60,234.00 L68.60,234.00 L69.60,234.00 L70.60,234.00 L71.60,234.00 L72.60,234.00 L73.60,234.00 L74.60,234.00 L75.60,234.00 L76.60,234.00 L77.60,234.00 L78.60,234.00 L79.60,234.00 L80.60,234.00 L81.60,234.00 L82.60,234.00 L83.60,234.00 L84.60,234.00 L85.60,234.00 L86.60,234.00 L87.60,234.00 L88.60,234.00 L89.60,234.00 L90.60,234.00 L91.60,234.00 L92.60,234.00 L93.60,234.00 L94.60,234.00 L95.60,234.00 L96.60,234.00 L97.60,234.00 L98.60,234.00 L99.60,234.00 L100.60,234.00 L101.60,234.00 L102.60,234.00 L103.60,234.00 L104.60,234.00 L105.60,234.00 L106.60,234.00 L107.60,234.00 L108.60,234.00 L109.60,234.00 L110.60,234.00 L111.60,234.00 L112.60,234.00 L113.60,234.00 L114.60,234.00 L115.60,234.00 L116.60,234.00 L117.60,234.00 L118.60,234.00 L119.60,234.00 L120.60,234.00 L121.60,234.00 L122.60,234.00 L123.60,234.00 L124.60,234.00 L125.60,234.00 L126.60,234.00 L127.60,234.00 L128.60,234.00 L129.60,234.00 L130.60,234.00 L131.60,234.00 L132.60,234.00 L133.60,234.00 L134.60,234.00 L135.60,234.00 L136.60,234.00 L137.60,234.00 L138.60,234.00 L139.60,234.00 L140.60,234.00 L141.60,234.00 L142.60,234.00 L143.60,234.00 L144.60,234.00 L145.60,234.00 L146.60,234.00 L147.60,234.00 L148.60,234.00 L149.60,234.00 L150.60,234.00 L151.60,234.00 L152.60,234.00 L153.60,234.00 L154.60,234.00 L155.60,234.00 L156.60,234.00 L157.60,234.00 L158.60,234.00 L159.60,234.00 L160.60,234.00 L161.60,234.00 L162.60,234.00 L163.60,234.00 L164.60,234.00 L165.60,234.00 L166.60,234.00 L167.60,234.00 L168.60,234.00 L169.60,234.00 L170.60,234.00 L171.60,234.00 L172.60,234.00 L173.60,234.00 L174.60,234.00 L175.60,234.00 L176.60,234.00 L177.60,234.00 L178.60,234.00 L179.60,234.00 L180.60,234.00 L181.60,234.00 L182.60,234.00 L183.60,234.00 L184.60,234.00 L185.60,234.00 L186.60,234.00 L187.60,234.00 L188.60,233.99 L189.60,233.99 L190.60,233.99 L191.60,233.99 L192.60,233.99 L193.60,233.99 L194.60,233.99 L195.60,233.99 L196.60,233.99 L197.60,233.99 L198.60,233.99 L199.60,233.99 L200.60,233.99 L201.60,233.98 L202.60,233.98 L203.60,233.98 L204.60,233.98 L205.60,233.98 L206.60,233.98 L207.60,233.98 L208.60,233.97 L209.60,233.97 L210.60,233.97 L211.60,233.97 L212.60,233.96 L213.60,233.96 L214.60,233.96 L215.60,233.95 L216.60,233.95 L217.60,233.94 L218.60,233.94 L219.60,233.93 L220.60,233.93 L221.60,233.92 L222.60,233.92 L223.60,233.91 L224.60,233.90 L225.60,233.89 L226.60,233.88 L227.60,233.87 L228.60,233.86 L229.60,233.85 L230.60,233.84 L231.60,233.82 L232.60,233.81 L233.60,233.79 L234.60,233.77 L235.60,233.75 L236.60,233.73 L237.60,233.71 L238.60,233.69 L239.60,233.66 L240.60,233.63 L241.60,233.60 L242.60,233.57 L243.60,233.53 L244.60,233.49 L245.60,233.45 L246.60,233.40 L247.60,233.35 L248.60,233.30 L249.60,233.24 L250.60,233.18 L251.60,233.11 L252.60,233.04 L253.60,232.96 L254.60,232.87 L255.60,232.78 L256.60,232.68 L257.60,232.58 L258.60,232.46 L259.60,232.34 L260.60,232.21 L261.60,232.07 L262.60,231.92 L263.60,231.76 L264.60,231.59 L265.60,231.40 L266.60,231.21 L267.60,231.00 L268.60,230.78 L269.60,230.54 L270.60,230.29 L271.60,230.03 L272.60,229.75 L273.60,229.45 L274.60,229.14 L275.60,228.81 L276.60,228.47 L277.60,228.10 L278.60,227.72 L279.60,227.33 L280.60,226.91 L281.60,226.48 L282.60,226.03 L283.60,225.56 L284.60,225.08 L285.60,224.57 L286.60,224.05 L287.60,223.52 L288.60,222.97 L289.60,222.40 L290.60,221.81 L291.60,221.21 L292.60,220.60 L293.60,219.97 L294.60,219.33 L295.60,218.68 L296.60,218.01 L297.60,217.33 L298.60,216.64 L299.60,215.94 L300.60,215.23 L301.60,214.51 L302.60,213.78 L303.60,213.04 L304.60,212.30 L305.60,211.54 L306.60,210.78 L307.60,210.01 L308.60,209.24 L309.60,208.46 L310.60,207.67 L311.60,206.88 L312.60,206.09 L313.60,205.29 L314.60,204.48 L315.60,203.67 L316.60,202.86 L317.60,202.05 L318.60,201.23 L319.60,200.41 L320.60,199.58 L321.60,198.76 L322.60,197.93 L323.60,197.10 L324.60,196.27 L325.60,195.43 L326.60,194.59 L327.60,193.76 L328.60,192.92 L329.60,192.08 L330.60,191.24 L331.60,190.39 L332.60,189.55 L333.60,188.70 L334.60,187.86 L335.60,187.01 L336.60,186.17 L337.60,185.32 L338.60,184.47 L339.60,183.62 L340.60,182.77 L341.60,181.92 L342.60,181.07 L343.60,180.22 L344.60,179.37 L345.60,178.51 L346.60,177.66 L347.60,176.81 L348.60,175.96 L349.60,175.10 L350.60,174.25 L351.60,173.40 L352.60,172.54 L353.60,171.69 L354.60,170.84 L355.60,169.98 L356.60,169.13 L357.60,168.27 L358.60,167.42 L359.60,166.56 L360.60,165.71 L361.60,164.85 L362.60,164.00 L363.60,163.14 L364.60,162.29 L365.60,161.43 L366.60,160.58 L367.60,159.72 L368.60,158.87 L369.60,158.01 L370.60,157.15 L371.60,156.30 L372.60,155.44 L373.60,154.59 L374.60,153.73 L375.60,152.88 L376.60,152.02 L377.60,151.16 L378.60,150.31 L379.60,149.45 L380.60,148.60 L380.60,152.00 L379.60,152.85 L378.60,153.71 L377.60,154.57 L376.60,155.42 L375.60,156.28 L374.60,157.13 L373.60,157.99 L372.60,158.85 L371.60,159.70 L370.60,160.56 L369.60,161.41 L368.60,162.27 L367.60,163.12 L366.60,163.98 L365.60,164.84 L364.60,165.69 L363.60,166.55 L362.60,167.40 L361.60,168.26 L360.60,169.11 L359.60,169.97 L358.60,170.82 L357.60,171.68 L356.60,172.53 L355.60,173.39 L354.60,174.24 L353.60,175.10 L352.60,175.95 L351.60,176.81 L350.60,177.66 L349.60,178.52 L348.60,179.37 L347.60,180.23 L346.60,181.08 L345.60,181.93 L344.60,182.79 L343.60,183.64 L342.60,184.49 L341.60,185.35 L340.60,186.20 L339.60,187.05 L338.60,187.90 L337.60,188.75 L336.60,189.61 L335.60,190.46 L334.60,191.31 L333.60,192.16 L332.60,193.01 L331.60,193.85 L330.60,194.70 L329.60,195.55 L328.60,196.40 L327.60,197.24 L326.60,198.09 L325.60,198.93 L324.60,199.77 L323.60,200.61 L322.60,201.45 L321.60,202.29 L320.60,203.13 L319.60,203.97 L318.60,204.80 L317.60,205.63 L316.60,206.46 L315.60,207.29 L314.60,208.12 L313.60,208.94 L312.60,209.76 L311.60,210.58 L310.60,211.40 L309.60,212.21 L308.60,213.02 L307.60,213.82 L306.60,214.62 L305.60,215.42 L304.60,216.21 L303.60,216.99 L302.60,217.77 L301.60,218.55 L300.60,219.31 L299.60,220.07 L298.60,220.83 L297.60,221.57 L296.60,222.31 L295.60,223.04 L294.60,223.76 L293.60,224.47 L292.60,225.17 L291.60,225.86 L290.60,226.54 L289.60,227.21 L288.60,227.86 L287.60,228.50 L286.60,229.13 L285.60,229.74 L284.60,230.34 L283.60,230.92 L282.60,231.49 L281.60,232.04 L280.60,232.58 L279.60,233.09 L278.60,233.60 L277.60,234.08 L276.60,234.55 L275.60,235.00 L274.60,235.43 L273.60,235.84 L272.60,236.24 L271.60,236.62 L270.60,236.98 L269.60,237.32 L268.60,237.65 L267.60,237.96 L266.60,238.26 L265.60,238.54 L264.60,238.80 L263.60,239.05 L262.60,239.29 L261.60,239.51 L260.60,239.72 L259.60,239.91 L258.60,240.09 L257.60,240.27 L256.60,240.43 L255.60,240.58 L254.60,240.72 L253.60,240.85 L252.60,240.97 L251.60,241.08 L250.60,241.19 L249.60,241.28 L248.60,241.38 L247.60,241.46 L246.60,241.54 L245.60,241.61 L244.60,241.68 L243.60,241.74 L242.60,241.80 L241.60,241.85 L240.60,241.90 L239.60,241.95 L238.60,241.99 L237.60,242.03 L236.60,242.07 L235.60,242.10 L234.60,242.13 L233.60,242.16 L232.60,242.19 L231.60,242.21 L230.60,242.23 L229.60,242.26 L228.60,242.27 L227.60,242.29 L226.60,242.31 L225.60,242.32 L224.60,242.34 L223.60,242.35 L222.60,242.36 L221.60,242.37 L220.60,242.38 L219.60,242.39 L218.60,242.40 L217.60,242.41 L216.60,242.42 L215.60,242.42 L214.60,242.43 L213.60,242.43 L212.60,242.44 L211.60,242.44 L210.60,242.45 L209.60,242.45 L208.60,242.46 L207.60,242.46 L206.60,242.46 L205.60,242.47 L204.60,242.47 L203.60,242.47 L202.60,242.47 L201.60,242.48 L200.60,242.48 L199.60,242.48 L198.60,242.48 L197.60,242.48 L196.60,242.48 L195.60,242.49 L194.60,242.49 L193.60,242.49 L192.60,242.49 L191.60,242.49 L190.60,242.49 L189.60,242.49 L188.60,242.49 L187.60,242.49 L186.60,242.49 L185.60,242.49 L184.60,242.49 L183.60,242.49 L182.60,242.49 L181.60,242.50 L180.60,242.50 L179.60,242.50 L178.60,242.50 L177.60,242.50 L176.60,242.50 L175.60,242.50 L174.60,242.50 L173.60,242.50 L172.60,242.50 L171.60,242.50 L170.60,242.50 L169.60,242.50 L168.60,242.50 L167.60,242.50 L166.60,242.50 L165.60,242.50 L164.60,242.50 L163.60,242.50 L162.60,242.50 L161.60,242.50 L160.60,242.50 L159.60,242.50 L158.60,242.50 L157.60,242.50 L156.60,242.50 L155.60,242.50 L154.60,242.50 L153.60,242.50 L152.60,242.50 L151.60,242.50 L150.60,242.50 L149.60,242.50 L148.60,242.50 L147.60,242.50 L146.60,242.50 L145.60,242.50 L144.60,242.50 L143.60,242.50 L142.60,242.50 L141.60,242.50 L140.60,242.50 L139.60,242.50 L138.60,242.50 L137.60,242.50 L136.60,242.50 L135.60,242.50 L134.60,242.50 L133.60,242.50 L132.60,242.50 L131.60,242.50 L130.60,242.50 L129.60,242.50 L128.60,242.50 L127.60,242.50 L126.60,242.50 L125.60,242.50 L124.60,242.50 L123.60,242.50 L122.60,242.50 L121.60,242.50 L120.60,242.50 L119.60,242.50 L118.60,242.50 L117.60,242.50 L116.60,242.50 L115.60,242.50 L114.60,242.50 L113.60,242.50 L112.60,242.50 L111.60,242.50 L110.60,242.50 L109.60,242.50 L108.60,242.50 L107.60,242.50 L106.60,242.50 L105.60,242.50 L104.60,242.50 L103.60,242.50 L102.60,242.50 L101.60,242.50 L100.60,242.50 L99.60,242.50 L98.60,242.50 L97.60,242.50 L96.60,242.50 L95.60,242.50 L94.60,242.50 L93.60,242.50 L92.60,242.50 L91.60,242.50 L90.60,242.50 L89.60,242.50 L88.60,242.50 L87.60,242.50 L86.60,242.50 L85.60,242.50 L84.60,242.50 L83.60,242.50 L82.60,242.50 L81.60,242.50 L80.60,242.50 L79.60,242.50 L78.60,242.50 L77.60,242.50 L76.60,242.50 L75.60,242.50 L74.60,242.50 L73.60,242.50 L72.60,242.50 L71.60,242.50 L70.60,242.50 L69.60,242.50 L68.60,242.50 L67.60,242.50 L66.60,242.50 L65.60,242.50 L64.60,242.50 L63.60,242.50 L62.60,242.50 L61.60,242.50 L60.60,242.50 L59.60,242.50 L58.60,242.50 L57.60,242.50 L56.60,242.50 L55.60,242.50 L54.60,242.50 L53.60,242.50 L52.60,242.50 L51.60,242.50 L50.60,242.50 L49.60,242.50 L48.60,242.50 L47.60,242.50 L46.60,242.50 L45.60,242.50Z" fill="#FFC68F"/>
<path d="M45.60,234.00 L46.60,234.00 L47.60,234.00 L48.60,234.00 L49.60,234.00 L50.60,234.00 L51.60,234.00 L52.60,234.00 L53.60,234.00 L54.60,234.00 L55.60,234.00 L56.60,234.00 L57.60,234.00 L58.60,234.00 L59.60,234.00 L60.60,234.00 L61.60,234.00 L62.60,234.00 L63.60,234.00 L64.60,234.00 L65.60,234.00 L66.60,234.00 L67.60,234.00 L68.60,234.00 L69.60,234.00 L70.60,234.00 L71.60,234.00 L72.60,234.00 L73.60,234.00 L74.60,234.00 L75.60,234.00 L76.60,234.00 L77.60,234.00 L78.60,234.00 L79.60,234.00 L80.60,234.00 L81.60,234.00 L82.60,234.00 L83.60,234.00 L84.60,234.00 L85.60,234.00 L86.60,234.00 L87.60,234.00 L88.60,234.00 L89.60,234.00 L90.60,234.00 L91.60,234.00 L92.60,234.00 L93.60,234.00 L94.60,234.00 L95.60,234.00 L96.60,234.00 L97.60,234.00 L98.60,234.00 L99.60,234.00 L100.60,234.00 L101.60,234.00 L102.60,234.00 L103.60,234.00 L104.60,234.00 L105.60,234.00 L106.60,234.00 L107.60,234.00 L108.60,234.00 L109.60,234.00 L110.60,234.00 L111.60,234.00 L112.60,234.00 L113.60,234.00 L114.60,234.00 L115.60,234.00 L116.60,234.00 L117.60,234.00 L118.60,234.00 L119.60,234.00 L120.60,234.00 L121.60,234.00 L122.60,234.00 L123.60,234.00 L124.60,234.00 L125.60,234.00 L126.60,234.00 L127.60,234.00 L128.60,234.00 L129.60,234.00 L130.60,234.00 L131.60,234.00 L132.60,234.00 L133.60,234.00 L134.60,234.00 L135.60,234.00 L136.60,234.00 L137.60,234.00 L138.60,234.00 L139.60,234.00 L140.60,234.00 L141.60,234.00 L142.60,234.00 L143.60,234.00 L144.60,234.00 L145.60,234.00 L146.60,234.00 L147.60,234.00 L148.60,234.00 L149.60,234.00 L150.60,234.00 L151.60,234.00 L152.60,234.00 L153.60,234.00 L154.60,234.00 L155.60,234.00 L156.60,234.00 L157.60,234.00 L158.60,234.00 L159.60,234.00 L160.60,234.00 L161.60,234.00 L162.60,234.00 L163.60,234.00 L164.60,234.00 L165.60,234.00 L166.60,234.00 L167.60,234.00 L168.60,234.00 L169.60,234.00 L170.60,234.00 L171.60,234.00 L172.60,234.00 L173.60,234.00 L174.60,234.00 L175.60,234.00 L176.60,234.00 L177.60,234.00 L178.60,234.00 L179.60,234.00 L180.60,234.00 L181.60,234.00 L182.60,234.00 L183.60,234.00 L184.60,234.00 L185.60,234.00 L186.60,234.00 L187.60,234.00 L188.60,233.99 L189.60,233.99 L190.60,233.99 L191.60,233.99 L192.60,233.99 L193.60,233.99 L194.60,233.99 L195.60,233.99 L196.60,233.99 L197.60,233.99 L198.60,233.99 L199.60,233.99 L200.60,233.99 L201.60,233.98 L202.60,233.98 L203.60,233.98 L204.60,233.98 L205.60,233.98 L206.60,233.98 L207.60,233.98 L208.60,233.97 L209.60,233.97 L210.60,233.97 L211.60,233.97 L212.60,233.96 L213.60,233.96 L214.60,233.96 L215.60,233.95 L216.60,233.95 L217.60,233.94 L218.60,233.94 L219.60,233.93 L220.60,233.93 L221.60,233.92 L222.60,233.92 L223.60,233.91 L224.60,233.90 L225.60,233.89 L226.60,233.88 L227.60,233.87 L228.60,233.86 L229.60,233.85 L230.60,233.84 L231.60,233.82 L232.60,233.81 L233.60,233.79 L234.60,233.77 L235.60,233.75 L236.60,233.73 L237.60,233.71 L238.60,233.69 L239.60,233.66 L240.60,233.63 L241.60,233.60 L242.60,233.57 L243.60,233.53 L244.60,233.49 L245.60,233.45 L246.60,233.40 L247.60,233.35 L248.60,233.30 L249.60,233.24 L250.60,233.18 L251.60,233.11 L252.60,233.04 L253.60,232.96 L254.60,232.87 L255.60,232.78 L256.60,232.68 L257.60,232.58 L258.60,232.46 L259.60,232.34 L260.60,232.21 L261.60,232.07 L262.60,231.92 L263.60,231.76 L264.60,231.59 L265.60,231.40 L266.60,231.21 L267.60,231.00 L268.60,230.78 L269.60,230.54 L270.60,230.29 L271.60,230.03 L272.60,229.75 L273.60,229.45 L274.60,229.14 L275.60,228.81 L276.60,228.47 L277.60,228.10 L278.60,227.72 L279.60,227.33 L280.60,226.91 L281.60,226.48 L282.60,226.03 L283.60,225.56 L284.60,225.08 L285.60,224.57 L286.60,224.05 L287.60,223.52 L288.60,222.97 L289.60,222.40 L290.60,221.81 L291.60,221.21 L292.60,220.60 L293.60,219.97 L294.60,219.33 L295.60,218.68 L296.60,218.01 L297.60,217.33 L298.60,216.64 L299.60,215.94 L300.60,215.23 L301.60,214.51 L302.60,213.78 L303.60,213.04 L304.60,212.30 L305.60,211.54 L306.60,210.78 L307.60,210.01 L308.60,209.24 L309.60,208.46 L310.60,207.67 L311.60,206.88 L312.60,206.09 L313.60,205.29 L314.60,204.48 L315.60,203.67 L316.60,202.86 L317.60,202.05 L318.60,201.23 L319.60,200.41 L320.60,199.58 L321.60,198.76 L322.60,197.93 L323.60,197.10 L324.60,196.27 L325.60,195.43 L326.60,194.59 L327.60,193.76 L328.60,192.92 L329.60,192.08 L330.60,191.24 L331.60,190.39 L332.60,189.55 L333.60,188.70 L334.60,187.86 L335.60,187.01 L336.60,186.17 L337.60,185.32 L338.60,184.47 L339.60,183.62 L340.60,182.77 L341.60,181.92 L342.60,181.07 L343.60,180.22 L344.60,179.37 L345.60,178.51 L346.60,177.66 L347.60,176.81 L348.60,175.96 L349.60,175.10 L350.60,174.25 L351.60,173.40 L352.60,172.54 L353.60,171.69 L354.60,170.84 L355.60,169.98 L356.60,169.13 L357.60,168.27 L358.60,167.42 L359.60,166.56 L360.60,165.71 L361.60,164.85 L362.60,164.00 L363.60,163.14 L364.60,162.29 L365.60,161.43 L366.60,160.58 L367.60,159.72 L368.60,158.87 L369.60,158.01 L370.60,157.15 L371.60,156.30 L372.60,155.44 L373.60,154.59 L374.60,153.73 L375.60,152.88 L376.60,152.02 L377.60,151.16 L378.60,150.31 L379.60,149.45 L380.60,148.60" fill="none" stroke="#FF8C1E" stroke-width="1.0" stroke-dasharray="4.2 2" opacity="1.0"/>
<path d="M45.60,242.50 L46.60,242.50 L47.60,242.50 L48.60,242.50 L49.60,242.50 L50.60,242.50 L51.60,242.50 L52.60,242.50 L53.60,242.50 L54.60,242.50 L55.60,242.50 L56.60,242.50 L57.60,242.50 L58.60,242.50 L59.60,242.50 L60.60,242.50 L61.60,242.50 L62.60,242.50 L63.60,242.50 L64.60,242.50 L65.60,242.50 L66.60,242.50 L67.60,242.50 L68.60,242.50 L69.60,242.50 L70.60,242.50 L71.60,242.50 L72.60,242.50 L73.60,242.50 L74.60,242.50 L75.60,242.50 L76.60,242.50 L77.60,242.50 L78.60,242.50 L79.60,242.50 L80.60,242.50 L81.60,242.50 L82.60,242.50 L83.60,242.50 L84.60,242.50 L85.60,242.50 L86.60,242.50 L87.60,242.50 L88.60,242.50 L89.60,242.50 L90.60,242.50 L91.60,242.50 L92.60,242.50 L93.60,242.50 L94.60,242.50 L95.60,242.50 L96.60,242.50 L97.60,242.50 L98.60,242.50 L99.60,242.50 L100.60,242.50 L101.60,242.50 L102.60,242.50 L103.60,242.50 L104.60,242.50 L105.60,242.50 L106.60,242.50 L107.60,242.50 L108.60,242.50 L109.60,242.50 L110.60,242.50 L111.60,242.50 L112.60,242.50 L113.60,242.50 L114.60,242.50 L115.60,242.50 L116.60,242.50 L117.60,242.50 L118.60,242.50 L119.60,242.50 L120.60,242.50 L121.60,242.50 L122.60,242.50 L123.60,242.50 L124.60,242.50 L125.60,242.50 L126.60,242.50 L127.60,242.50 L128.60,242.50 L129.60,242.50 L130.60,242.50 L131.60,242.50 L132.60,242.50 L133.60,242.50 L134.60,242.50 L135.60,242.50 L136.60,242.50 L137.60,242.50 L138.60,242.50 L139.60,242.50 L140.60,242.50 L141.60,242.50 L142.60,242.50 L143.60,242.50 L144.60,242.50 L145.60,242.50 L146.60,242.50 L147.60,242.50 L148.60,242.50 L149.60,242.50 L150.60,242.50 L151.60,242.50 L152.60,242.50 L153.60,242.50 L154.60,242.50 L155.60,242.50 L156.60,242.50 L157.60,242.50 L158.60,242.50 L159.60,242.50 L160.60,242.50 L161.60,242.50 L162.60,242.50 L163.60,242.50 L164.60,242.50 L165.60,242.50 L166.60,242.50 L167.60,242.50 L168.60,242.50 L169.60,242.50 L170.60,242.50 L171.60,242.50 L172.60,242.50 L173.60,242.50 L174.60,242.50 L175.60,242.50 L176.60,242.50 L177.60,242.50 L178.60,242.50 L179.60,242.50 L180.60,242.50 L181.60,242.50 L182.60,242.49 L183.60,242.49 L184.60,242.49 L185.60,242.49 L186.60,242.49 L187.60,242.49 L188.60,242.49 L189.60,242.49 L190.60,242.49 L191.60,242.49 L192.60,242.49 L193.60,242.49 L194.60,242.49 L195.60,242.49 L196.60,242.48 L197.60,242.48 L198.60,242.48 L199.60,242.48 L200.60,242.48 L201.60,242.48 L202.60,242.47 L203.60,242.47 L204.60,242.47 L205.60,242.47 L206.60,242.46 L207.60,242.46 L208.60,242.46 L209.60,242.45 L210.60,242.45 L211.60,242.44 L212.60,242.44 L213.60,242.43 L214.60,242.43 L215.60,242.42 L216.60,242.42 L217.60,242.41 L218.60,242.40 L219.60,242.39 L220.60,242.38 L221.60,242.37 L222.60,242.36 L223.60,242.35 L224.60,242.34 L225.60,242.32 L226.60,242.31 L227.60,242.29 L228.60,242.27 L229.60,242.26 L230.60,242.23 L231.60,242.21 L232.60,242.19 L233.60,242.16 L234.60,242.13 L235.60,242.10 L236.60,242.07 L237.60,242.03 L238.60,241.99 L239.60,241.95 L240.60,241.90 L241.60,241.85 L242.60,241.80 L243.60,241.74 L244.60,241.68 L245.60,241.61 L246.60,241.54 L247.60,241.46 L248.60,241.38 L249.60,241.28 L250.60,241.19 L251.60,241.08 L252.60,240.97 L253.60,240.85 L254.60,240.72 L255.60,240.58 L256.60,240.43 L257.60,240.27 L258.60,240.09 L259.60,239.91 L260.60,239.72 L261.60,239.51 L262.60,239.29 L263.60,239.05 L264.60,238.80 L265.60,238.54 L266.60,238.26 L267.60,237.96 L268.60,237.65 L269.60,237.32 L270.60,236.98 L271.60,236.62 L272.60,236.24 L273.60,235.84 L274.60,235.43 L275.60,235.00 L276.60,234.55 L277.60,234.08 L278.60,233.60 L279.60,233.09 L280.60,232.58 L281.60,232.04 L282.60,231.49 L283.60,230.92 L284.60,230.34 L285.60,229.74 L286.60,229.13 L287.60,228.50 L288.60,227.86 L289.60,227.21 L290.60,226.54 L291.60,225.86 L292.60,225.17 L293.60,224.47 L294.60,223.76 L295.60,223.04 L296.60,222.31 L297.60,221.57 L298.60,220.83 L299.60,220.07 L300.60,219.31 L301.60,218.55 L302.60,217.77 L303.60,216.99 L304.60,216.21 L305.60,215.42 L306.60,214.62 L307.60,213.82 L308.60,213.02 L309.60,212.21 L310.60,211.40 L311.60,210.58 L312.60,209.76 L313.60,208.94 L314.60,208.12 L315.60,207.29 L316.60,206.46 L317.60,205.63 L318.60,204.80 L319.60,203.97 L320.60,203.13 L321.60,202.29 L322.60,201.45 L323.60,200.61 L324.60,199.77 L325.60,198.93 L326.60,198.09 L327.60,197.24 L328.60,196.40 L329.60,195.55 L330.60,194.70 L331.60,193.85 L332.60,193.01 L333.60,192.16 L334.60,191.31 L335.60,190.46 L336.60,189.61 L337.60,188.75 L338.60,187.90 L339.60,187.05 L340.60,186.20 L341.60,185.35 L342.60,184.49 L343.60,183.64 L344.60,182.79 L345.60,181.93 L346.60,181.08 L347.60,180.23 L348.60,179.37 L349.60,178.52 L350.60,177.66 L351.60,176.81 L352.60,175.95 L353.60,175.10 L354.60,174.24 L355.60,173.39 L356.60,172.53 L357.60,171.68 L358.60,170.82 L359.60,169.97 L360.60,169.11 L361.60,168.26 L362.60,167.40 L363.60,166.55 L364.60,165.69 L365.60,164.84 L366.60,163.98 L367.60,163.12 L368.60,162.27 L369.60,161.41 L370.60,160.56 L371.60,159.70 L372.60,158.85 L373.60,157.99 L374.60,157.13 L375.60,156.28 L376.60,155.42 L377.60,154.57 L378.60,153.71 L379.60,152.85 L380.60,152.00" fill="none" stroke="#FF8C1E" stroke-width="1.0" stroke-dasharray="4.2 2" opacity="1.0"/>
<path d="M45.60,216.70 L46.60,216.70 L47.60,216.70 L48.60,216.70 L49.60,216.70 L50.60,216.70 L51.60,216.70 L52.60,216.70 L53.60,216.70 L54.60,216.70 L55.60,216.70 L56.60,216.70 L57.60,216.70 L58.60,216.70 L59.60,216.70 L60.60,216.70 L61.60,216.70 L62.60,216.70 L63.60,216.70 L64.60,216.70 L65.60,216.70 L66.60,216.70 L67.60,216.70 L68.60,216.70 L69.60,216.70 L70.60,216.70 L71.60,216.70 L72.60,216.70 L73.60,216.70 L74.60,216.70 L75.60,216.70 L76.60,216.70 L77.60,216.70 L78.60,216.70 L79.60,216.70 L80.60,216.70 L81.60,216.70 L82.60,216.70 L83.60,216.70 L84.60,216.70 L85.60,216.70 L86.60,216.70 L87.60,216.70 L88.60,216.70 L89.60,216.70 L90.60,216.70 L91.60,216.70 L92.60,216.70 L93.60,216.70 L94.60,216.70 L95.60,216.70 L96.60,216.70 L97.60,216.70 L98.60,216.70 L99.60,216.70 L100.60,216.70 L101.60,216.70 L102.60,216.70 L103.60,216.70 L104.60,216.70 L105.60,216.70 L106.60,216.70 L107.60,216.70 L108.60,216.70 L109.60,216.70 L110.60,216.70 L111.60,216.70 L112.60,216.70 L113.60,216.70 L114.60,216.70 L115.60,216.70 L116.60,216.70 L117.60,216.70 L118.60,216.70 L119.60,216.70 L120.60,216.70 L121.60,216.70 L122.60,216.70 L123.60,216.70 L124.60,216.70 L125.60,216.70 L126.60,216.70 L127.60,216.70 L128.60,216.70 L129.60,216.70 L130.60,216.70 L131.60,216.70 L132.60,216.70 L133.60,216.70 L134.60,216.70 L135.60,216.70 L136.60,216.70 L137.60,216.70 L138.60,216.70 L139.60,216.70 L140.60,216.70 L141.60,216.70 L142.60,216.70 L143.60,216.70 L144.60,216.70 L145.60,216.70 L146.60,216.70 L147.60,216.70 L148.60,216.70 L149.60,216.70 L150.60,216.70 L151.60,216.70 L152.60,216.70 L153.60,216.70 L154.60,216.70 L155.60,216.69 L156.60,216.69 L157.60,216.69 L158.60,216.69 L159.60,216.69 L160.60,216.69 L161.60,216.69 L162.60,216.69 L163.60,216.69 L164.60,216.69 L165.60,216.69 L166.60,216.69 L167.60,216.69 L168.60,216.69 L169.60,216.69 L170.60,216.69 L171.60,216.69 L172.60,216.68 L173.60,216.68 L174.60,216.68 L175.60,216.68 L176.60,216.68 L177.60,216.68 L178.60,216.68 L179.60,216.67 L180.60,216.67 L181.60,216.67 L182.60,216.67 L183.60,216.67 L184.60,216.66 L185.60,216.66 L186.60,216.66 L187.60,216.66 L188.60,216.65 L189.60,216.65 L190.60,216.65 L191.60,216.64 L192.60,216.64 L193.60,216.64 L194.60,216.63 L195.60,216.63 L196.60,216.62 L197.60,216.62 L198.60,216.61 L199.60,216.61 L200.60,216.60 L201.60,216.59 L202.60,216.59 L203.60,216.58 L204.60,216.57 L205.60,216.56 L206.60,216.55 L207.60,216.54 L208.60,216.53 L209.60,216.52 L210.60,216.51 L211.60,216.49 L212.60,216.48 L213.60,216.46 L214.60,216.45 L215.60,216.43 L216.60,216.41 L217.60,216.39 L218.60,216.37 L219.60,216.35 L220.60,216.33 L221.60,216.30 L222.60,216.28 L223.60,216.25 L224.60,216.22 L225.60,216.18 L226.60,216.15 L227.60,216.11 L228.60,216.07 L229.60,216.03 L230.60,215.99 L231.60,215.94 L232.60,215.89 L233.60,215.84 L234.60,215.78 L235.60,215.72 L236.60,215.66 L237.60,215.59 L238.60,215.52 L239.60,215.44 L240.60,215.36 L241.60,215.27 L242.60,215.18 L243.60,215.08 L244.60,214.98 L245.60,214.87 L246.60,214.75 L247.60,214.63 L248.60,214.50 L249.60,214.36 L250.60,214.22 L251.60,214.06 L252.60,213.90 L253.60,213.73 L254.60,213.55 L255.60,213.36 L256.60,213.16 L257.60,212.95 L258.60,212.73 L259.60,212.50 L260.60,212.26 L261.60,212.01 L262.60,211.74 L263.60,211.46 L264.60,211.17 L265.60,210.87 L266.60,210.55 L267.60,210.22 L268.60,209.88 L269.60,209.52 L270.60,209.15 L271.60,208.77 L272.60,208.37 L273.60,207.96 L274.60,207.53 L275.60,207.09 L276.00,206.91" fill="none" stroke="#ED3D5E" stroke-width="1.0" stroke-dasharray="4.2 2" opacity="1.0"/>
<path d="M45.60,229.40 L46.60,229.40 L47.60,229.40 L48.60,229.40 L49.60,229.40 L50.60,229.40 L51.60,229.40 L52.60,229.40 L53.60,229.40 L54.60,229.40 L55.60,229.40 L56.60,229.40 L57.60,229.40 L58.60,229.40 L59.60,229.40 L60.60,229.40 L61.60,229.40 L62.60,229.40 L63.60,229.40 L64.60,229.40 L65.60,229.40 L66.60,229.40 L67.60,229.40 L68.60,229.40 L69.60,229.40 L70.60,229.40 L71.60,229.40 L72.60,229.40 L73.60,229.40 L74.60,229.40 L75.60,229.40 L76.60,229.40 L77.60,229.40 L78.60,229.40 L79.60,229.40 L80.60,229.40 L81.60,229.40 L82.60,229.40 L83.60,229.40 L84.60,229.40 L85.60,229.40 L86.60,229.40 L87.60,229.40 L88.60,229.40 L89.60,229.40 L90.60,229.40 L91.60,229.40 L92.60,229.40 L93.60,229.40 L94.60,229.40 L95.60,229.40 L96.60,229.40 L97.60,229.40 L98.60,229.40 L99.60,229.40 L100.60,229.40 L101.60,229.40 L102.60,229.40 L103.60,229.40 L104.60,229.40 L105.60,229.40 L106.60,229.40 L107.60,229.40 L108.60,229.40 L109.60,229.39 L110.60,229.39 L111.60,229.39 L112.60,229.39 L113.60,229.39 L114.60,229.39 L115.60,229.39 L116.60,229.39 L117.60,229.39 L118.60,229.39 L119.60,229.39 L120.60,229.39 L121.60,229.39 L122.60,229.39 L123.60,229.39 L124.60,229.39 L125.60,229.39 L126.60,229.39 L127.60,229.39 L128.60,229.39 L129.60,229.39 L130.60,229.38 L131.60,229.38 L132.60,229.38 L133.60,229.38 L134.60,229.38 L135.60,229.38 L136.60,229.38 L137.60,229.38 L138.60,229.38 L139.60,229.37 L140.60,229.37 L141.60,229.37 L142.60,229.37 L143.60,229.37 L144.60,229.37 L145.60,229.37 L146.60,229.36 L147.60,229.36 L148.60,229.36 L149.60,229.36 L150.60,229.35 L151.60,229.35 L152.60,229.35 L153.60,229.35 L154.60,229.34 L155.60,229.34 L156.60,229.34 L157.60,229.33 L158.60,229.33 L159.60,229.33 L160.60,229.32 L161.60,229.32 L162.60,229.31 L163.60,229.31 L164.60,229.30 L165.60,229.30 L166.60,229.29 L167.60,229.29 L168.60,229.28 L169.60,229.27 L170.60,229.27 L171.60,229.26 L172.60,229.25 L173.60,229.24 L174.60,229.24 L175.60,229.23 L176.60,229.22 L177.60,229.21 L178.60,229.20 L179.60,229.18 L180.60,229.17 L181.60,229.16 L182.60,229.15 L183.60,229.13 L184.60,229.12 L185.60,229.10 L186.60,229.09 L187.60,229.07 L188.60,229.05 L189.60,229.03 L190.60,229.01 L191.60,228.99 L192.60,228.97 L193.60,228.95 L194.60,228.92 L195.60,228.90 L196.60,228.87 L197.60,228.84 L198.60,228.81 L199.60,228.78 L200.60,228.75 L201.60,228.71 L202.60,228.67 L203.60,228.63 L204.60,228.59 L205.60,228.55 L206.60,228.50 L207.60,228.46 L208.60,228.41 L209.60,228.35 L210.60,228.30 L211.60,228.24 L212.60,228.18 L213.60,228.11 L214.60,228.05 L215.60,227.97 L216.60,227.90 L217.60,227.82 L218.60,227.74 L219.60,227.65 L220.60,227.56 L221.60,227.46 L222.60,227.36 L223.60,227.26 L224.60,227.15 L225.60,227.03 L226.60,226.91 L227.60,226.79 L228.60,226.66 L229.60,226.52 L230.60,226.37 L231.60,226.22 L232.60,226.06 L233.60,225.90 L234.60,225.73 L235.60,225.55 L236.60,225.36 L237.60,225.16 L238.60,224.96 L239.60,224.75 L240.60,224.53 L241.60,224.30 L242.60,224.06 L243.60,223.81 L244.60,223.55 L245.60,223.29 L246.60,223.01 L247.60,222.72 L248.60,222.42 L249.60,222.11 L250.60,221.80 L251.60,221.47 L252.60,221.13 L253.60,220.77 L254.60,220.41 L255.60,220.04 L256.60,219.65 L257.60,219.25 L258.60,218.85 L259.60,218.43 L260.60,218.00 L261.60,217.55 L262.60,217.10 L263.60,216.63 L264.60,216.16 L265.60,215.67 L266.60,215.17 L267.60,214.66 L268.60,214.14 L269.60,213.60 L270.60,213.06 L271.60,212.51 L272.60,211.94 L273.60,211.37 L274.60,210.78 L275.60,210.19 L276.60,209.59 L277.60,208.97 L278.60,208.35 L279.60,207.72 L280.60,207.08 L281.60,206.43 L282.60,205.77 L283.00,205.51" fill="none" stroke="#ED3D5E" stroke-width="1.0" stroke-dasharray="4.2 2" opacity="1.0"/>
<path d="M273.00,208.21 L274.00,207.79 L275.00,207.36 L276.00,206.91 L277.00,206.45 L278.00,205.97 L279.00,205.48 L280.00,204.98 L281.00,204.47 L282.00,203.94 L283.00,203.39 L284.00,202.84 L285.00,202.27 L286.00,201.69 L287.00,201.10 L288.00,200.49 L289.00,199.88 L290.00,199.25 L291.00,198.61 L292.00,197.96 L293.00,197.30 L294.00,196.63 L295.00,195.95 L296.00,195.27 L297.00,194.57 L298.00,193.87 L299.00,193.15 L300.00,192.43 L301.00,191.70 L302.00,190.97 L303.00,190.23 L304.00,189.48 L305.00,188.73 L306.00,187.97 L307.00,187.20 L308.00,186.43 L309.00,185.65 L310.00,184.87 L311.00,184.09 L312.00,183.30 L313.00,182.51 L314.00,181.71 L315.00,180.91 L316.00,180.11 L317.00,179.30 L318.00,178.49 L319.00,177.68 L320.00,176.86 L321.00,176.05 L322.00,175.23 L323.00,174.40 L324.00,173.58 L325.00,172.75 L326.00,171.93 L327.00,171.10 L328.00,170.26 L329.00,169.43 L330.00,168.60 L331.00,167.76 L332.00,166.92 L333.00,166.09 L334.00,165.25 L335.00,164.41 L336.00,163.57 L337.00,162.72 L338.00,161.88 L339.00,161.04 L340.00,160.19 L341.00,159.35 L342.00,158.50 L343.00,157.65 L344.00,156.81 L345.00,155.96 L346.00,155.11 L347.00,154.26 L348.00,153.41 L349.00,152.56 L350.00,151.71 L351.00,150.86 L352.00,150.01 L353.00,149.16 L354.00,148.31 L355.00,147.45 L356.00,146.60 L357.00,145.75 L358.00,144.90 L359.00,144.04 L360.00,143.19 L361.00,142.34 L362.00,141.48 L363.00,140.63 L364.00,139.78 L365.00,138.92 L366.00,138.07 L367.00,137.21 L368.00,136.36 L369.00,135.51 L370.00,134.65 L371.00,133.80 L372.00,132.94 L373.00,132.09 L374.00,131.23 L375.00,130.38 L376.00,129.52 L377.00,128.67 L378.00,127.81 L379.00,126.96 L380.00,126.10 L380.60,125.59" fill="none" stroke="#ED3D5E" stroke-width="1.55"  opacity="1.0"/>
<path d="M45.60,195.50 L46.60,195.50 L47.60,195.50 L48.60,195.50 L49.60,195.50 L50.60,195.50 L51.60,195.50 L52.60,195.50 L53.60,195.50 L54.60,195.50 L55.60,195.50 L56.60,195.50 L57.60,195.50 L58.60,195.50 L59.60,195.50 L60.60,195.50 L61.60,195.50 L62.60,195.50 L63.60,195.50 L64.60,195.50 L65.60,195.50 L66.60,195.50 L67.60,195.50 L68.60,195.50 L69.60,195.50 L70.60,195.50 L71.60,195.50 L72.60,195.50 L73.60,195.50 L74.60,195.50 L75.60,195.50 L76.60,195.50 L77.60,195.50 L78.60,195.50 L79.60,195.50 L80.60,195.50 L81.60,195.50 L82.60,195.50 L83.60,195.50 L84.60,195.50 L85.60,195.50 L86.60,195.50 L87.60,195.50 L88.60,195.50 L89.60,195.50 L90.60,195.50 L91.60,195.50 L92.60,195.50 L93.60,195.50 L94.60,195.50 L95.60,195.50 L96.60,195.50 L97.60,195.50 L98.60,195.50 L99.60,195.50 L100.60,195.50 L101.60,195.50 L102.60,195.50 L103.60,195.50 L104.60,195.50 L105.60,195.50 L106.60,195.50 L107.60,195.50 L108.60,195.50 L109.60,195.50 L110.60,195.50 L111.60,195.50 L112.60,195.50 L113.60,195.50 L114.60,195.50 L115.60,195.50 L116.60,195.50 L117.60,195.50 L118.60,195.50 L119.60,195.50 L120.60,195.50 L121.60,195.50 L122.60,195.50 L123.60,195.50 L124.60,195.50 L125.60,195.50 L126.60,195.50 L127.60,195.50 L128.60,195.50 L129.60,195.50 L130.60,195.50 L131.60,195.50 L132.60,195.50 L133.60,195.50 L134.60,195.50 L135.60,195.50 L136.60,195.50 L137.60,195.50 L138.60,195.50 L139.60,195.50 L140.60,195.50 L141.60,195.50 L142.60,195.50 L143.60,195.50 L144.60,195.50 L145.60,195.50 L146.60,195.50 L147.60,195.50 L148.60,195.50 L149.60,195.50 L150.60,195.50 L151.60,195.50 L152.60,195.50 L153.60,195.50 L154.60,195.50 L155.60,195.50 L156.60,195.50 L157.60,195.50 L158.60,195.50 L159.60,195.50 L160.60,195.50 L161.60,195.50 L162.60,195.50 L163.60,195.50 L164.60,195.50 L165.60,195.50 L166.60,195.50 L167.60,195.50 L168.60,195.50 L169.60,195.50 L170.60,195.50 L171.60,195.50 L172.60,195.50 L173.60,195.50 L174.60,195.50 L175.60,195.50 L176.60,195.50 L177.60,195.50 L178.60,195.50 L179.60,195.50 L180.60,195.50 L181.60,195.50 L182.60,195.50 L183.60,195.50 L184.60,195.50 L185.60,195.50 L186.60,195.50 L187.60,195.50 L188.60,195.50 L189.60,195.50 L190.60,195.50 L191.60,195.50 L192.60,195.50 L193.60,195.50 L194.60,195.50 L195.60,195.50 L196.60,195.50 L197.60,195.50 L198.60,195.50 L199.60,195.50 L200.60,195.50 L201.60,195.50 L202.60,195.49 L203.60,195.48 L204.60,195.47 L205.60,195.46 L206.60,195.45 L207.60,195.43 L208.60,195.41 L209.60,195.39 L210.60,195.37 L211.60,195.34 L212.60,195.32 L213.60,195.29 L214.60,195.26 L215.60,195.24 L216.60,195.21 L217.60,195.18 L218.60,195.14 L219.60,195.11 L220.60,195.08 L221.60,195.04 L222.60,194.99 L223.60,194.94 L224.60,194.88 L225.60,194.81 L226.60,194.74 L227.60,194.67 L228.60,194.59 L229.60,194.51 L230.60,194.42 L231.60,194.34 L232.60,194.25 L233.60,194.15 L234.60,194.05 L235.60,193.94 L236.60,193.83 L237.60,193.71 L238.60,193.58 L239.60,193.44 L240.60,193.29 L241.60,193.13 L242.60,192.96 L243.60,192.78 L244.60,192.57 L245.60,192.32 L246.60,192.03 L247.60,191.72 L248.60,191.38 L249.60,191.04 L250.60,190.69 L251.60,190.34 L252.60,189.98 L253.60,189.60 L254.60,189.19 L255.60,188.76 L256.60,188.31 L257.60,187.78 L258.60,187.21 L259.60,186.60 L260.60,186.00 L261.60,185.42 L262.60,184.89 L263.60,184.39 L264.60,183.91 L265.60,183.44 L266.60,182.96 L267.60,182.47 L268.60,181.95 L269.60,181.40 L270.60,180.80 L271.60,180.21 L272.60,179.63 L273.60,179.07 L274.60,178.53 L275.60,177.98 L276.60,177.43 L277.60,176.86 L278.60,176.28 L279.60,175.70 L280.60,175.12 L281.60,174.51 L282.60,173.90 L283.60,173.27 L284.60,172.62 L285.60,171.95 L286.60,171.28 L287.60,170.61 L288.60,169.93 L289.60,169.27 L290.00,169.00 L290.00,169.30 L289.60,169.57 L288.60,170.23 L287.60,170.91 L286.60,171.58 L285.60,172.25 L284.60,172.97 L283.60,173.79 L282.60,174.62 L281.60,175.45 L280.60,176.29 L279.60,177.14 L278.60,177.99 L277.60,178.86 L276.60,179.72 L275.60,180.59 L274.60,181.47 L273.60,182.36 L272.60,183.25 L271.60,184.16 L270.60,185.06 L269.60,185.96 L268.60,186.85 L267.60,187.75 L266.60,188.64 L265.60,189.52 L264.60,190.39 L263.60,191.24 L262.60,192.08 L261.60,192.92 L260.60,193.74 L259.60,194.55 L258.60,195.34 L257.60,196.10 L256.60,196.85 L255.60,197.59 L254.60,198.31 L253.60,199.01 L252.60,199.70 L251.60,200.37 L250.60,201.02 L249.60,201.65 L248.60,202.28 L247.60,202.89 L246.60,203.50 L245.60,204.11 L244.60,204.73 L243.60,205.35 L242.60,205.99 L241.60,206.63 L240.60,207.28 L239.60,207.92 L238.60,208.55 L237.60,209.17 L236.60,209.77 L235.60,210.34 L234.60,210.88 L233.60,211.40 L232.60,211.90 L231.60,212.39 L230.60,212.87 L229.60,213.32 L228.60,213.76 L227.60,214.18 L226.60,214.60 L225.60,215.00 L224.60,215.40 L223.60,215.78 L222.60,216.14 L221.60,216.49 L220.60,216.82 L219.60,217.12 L218.60,217.41 L217.60,217.70 L216.60,217.97 L215.60,218.23 L214.60,218.47 L213.60,218.70 L212.60,218.89 L211.60,219.07 L210.60,219.23 L209.60,219.37 L208.60,219.51 L207.60,219.63 L206.60,219.75 L205.60,219.85 L204.60,219.93 L203.60,220.02 L202.60,220.10 L201.60,220.17 L200.60,220.25 L199.60,220.32 L198.60,220.38 L197.60,220.45 L196.60,220.51 L195.60,220.56 L194.60,220.62 L193.60,220.66 L192.60,220.71 L191.60,220.75 L190.60,220.78 L189.60,220.81 L188.60,220.84 L187.60,220.87 L186.60,220.90 L185.60,220.92 L184.60,220.95 L183.60,220.97 L182.60,220.99 L181.60,221.01 L180.60,221.03 L179.60,221.05 L178.60,221.06 L177.60,221.07 L176.60,221.09 L175.60,221.10 L174.60,221.10 L173.60,221.11 L172.60,221.12 L171.60,221.12 L170.60,221.13 L169.60,221.14 L168.60,221.14 L167.60,221.15 L166.60,221.16 L165.60,221.16 L164.60,221.17 L163.60,221.17 L162.60,221.18 L161.60,221.18 L160.60,221.19 L159.60,221.19 L158.60,221.20 L157.60,221.21 L156.60,221.21 L155.60,221.21 L154.60,221.22 L153.60,221.22 L152.60,221.23 L151.60,221.23 L150.60,221.24 L149.60,221.24 L148.60,221.24 L147.60,221.25 L146.60,221.25 L145.60,221.26 L144.60,221.26 L143.60,221.26 L142.60,221.27 L141.60,221.27 L140.60,221.27 L139.60,221.27 L138.60,221.28 L137.60,221.28 L136.60,221.28 L135.60,221.28 L134.60,221.29 L133.60,221.29 L132.60,221.29 L131.60,221.29 L130.60,221.29 L129.60,221.29 L128.60,221.29 L127.60,221.30 L126.60,221.30 L125.60,221.30 L124.60,221.30 L123.60,221.30 L122.60,221.30 L121.60,221.30 L120.60,221.30 L119.60,221.30 L118.60,221.30 L117.60,221.30 L116.60,221.30 L115.60,221.30 L114.60,221.30 L113.60,221.30 L112.60,221.30 L111.60,221.30 L110.60,221.30 L109.60,221.30 L108.60,221.30 L107.60,221.30 L106.60,221.30 L105.60,221.30 L104.60,221.30 L103.60,221.30 L102.60,221.30 L101.60,221.30 L100.60,221.30 L99.60,221.30 L98.60,221.30 L97.60,221.30 L96.60,221.30 L95.60,221.30 L94.60,221.30 L93.60,221.30 L92.60,221.30 L91.60,221.30 L90.60,221.30 L89.60,221.30 L88.60,221.30 L87.60,221.30 L86.60,221.30 L85.60,221.30 L84.60,221.30 L83.60,221.30 L82.60,221.30 L81.60,221.30 L80.60,221.30 L79.60,221.30 L78.60,221.30 L77.60,221.30 L76.60,221.30 L75.60,221.30 L74.60,221.30 L73.60,221.30 L72.60,221.30 L71.60,221.30 L70.60,221.30 L69.60,221.30 L68.60,221.30 L67.60,221.30 L66.60,221.30 L65.60,221.30 L64.60,221.30 L63.60,221.30 L62.60,221.30 L61.60,221.30 L60.60,221.30 L59.60,221.30 L58.60,221.30 L57.60,221.30 L56.60,221.30 L55.60,221.30 L54.60,221.30 L53.60,221.30 L52.60,221.30 L51.60,221.30 L50.60,221.30 L49.60,221.30 L48.60,221.30 L47.60,221.30 L46.60,221.30 L45.60,221.30Z" fill="#C0B6FF"/>
<path d="M246.00,215.50 L247.00,214.33 L248.00,212.40 L249.00,210.89 L250.00,209.40 L251.00,207.97 L252.00,206.50 L253.00,204.87 L254.00,203.20 L255.00,201.58 L256.00,200.00 L257.00,198.45 L258.00,197.10 L259.00,196.32 L260.00,195.53 L261.00,194.71 L262.00,193.89 L263.00,193.05 L264.00,192.20 L265.00,191.34 L266.00,190.47 L267.00,189.58 L268.00,188.69 L269.00,187.79 L270.00,186.90 L271.00,186.06 L272.00,185.47 L273.00,184.91 L274.00,184.36 L275.00,183.81 L276.00,183.25 L277.00,182.68 L278.00,182.09 L279.00,181.50 L280.00,180.89 L281.00,180.28 L282.00,179.65 L283.00,179.00 L284.00,178.33 L285.00,177.65 L286.00,176.96 L287.00,176.27 L288.00,175.57 L289.00,174.89 L290.00,174.21 L291.00,173.55 L292.00,172.88 L293.00,172.21 L294.00,171.53 L295.00,170.83 L296.00,170.10 L297.00,169.35 L298.00,168.57 L299.00,167.77 L300.00,166.95 L301.00,166.12 L302.00,165.27 L303.00,164.42 L304.00,163.56 L305.00,162.69 L306.00,161.82 L307.00,160.96 L308.00,160.10 L309.00,159.24 L310.00,158.40 L311.00,157.56 L312.00,156.72 L313.00,155.88 L314.00,155.05 L315.00,154.21 L316.00,153.37 L317.00,152.53 L318.00,151.69 L319.00,150.85 L320.00,150.02 L321.00,149.18 L322.00,148.34 L323.00,147.51 L324.00,146.67 L325.00,145.84 L326.00,145.00 L327.00,144.17 L328.00,143.34 L329.00,142.51 L330.00,141.68 L331.00,140.84 L332.00,140.01 L333.00,139.18 L334.00,138.35 L335.00,137.52 L336.00,136.69 L337.00,135.86 L338.00,135.02 L339.00,134.19 L340.00,133.35 L341.00,132.52 L342.00,131.68 L343.00,130.84 L344.00,130.00 L345.00,129.15 L346.00,128.31 L347.00,127.47 L348.00,126.63 L349.00,125.79 L350.00,124.95 L351.00,124.11 L352.00,123.27 L353.00,122.44 L354.00,121.60 L355.00,120.77 L356.00,119.94 L357.00,119.12 L358.00,118.29 L359.00,117.46 L360.00,116.63 L361.00,115.81 L362.00,114.98 L363.00,114.14 L364.00,113.31 L365.00,112.48 L366.00,111.64 L367.00,110.80 L368.00,109.97 L369.00,109.13 L370.00,108.29 L371.00,107.45 L372.00,106.61 L373.00,105.77 L374.00,104.92 L375.00,104.08 L376.00,103.24 L377.00,102.39 L378.00,101.55 L379.00,100.70 L380.00,99.85 L380.60,99.34 L380.60,113.89 L380.00,114.46 L379.00,115.42 L378.00,116.38 L377.00,117.33 L376.00,118.28 L375.00,119.22 L374.00,120.16 L373.00,121.10 L372.00,122.03 L371.00,122.96 L370.00,123.88 L369.00,124.80 L368.00,125.71 L367.00,126.62 L366.00,127.52 L365.00,128.41 L364.00,129.30 L363.00,130.18 L362.00,131.06 L361.00,131.93 L360.00,132.80 L359.00,133.66 L358.00,134.52 L357.00,135.37 L356.00,136.22 L355.00,137.07 L354.00,137.91 L353.00,138.75 L352.00,139.58 L351.00,140.42 L350.00,141.25 L349.00,142.08 L348.00,142.91 L347.00,143.73 L346.00,144.56 L345.00,145.38 L344.00,146.20 L343.00,147.03 L342.00,147.85 L341.00,148.67 L340.00,149.50 L339.00,150.32 L338.00,151.15 L337.00,151.97 L336.00,152.80 L335.00,153.62 L334.00,154.44 L333.00,155.25 L332.00,156.05 L331.00,156.84 L330.00,157.63 L329.00,158.42 L328.00,159.21 L327.00,160.01 L326.00,160.80 L325.00,161.60 L324.00,162.40 L323.00,163.21 L322.00,164.03 L321.00,164.86 L320.00,165.70 L319.00,166.55 L318.00,167.42 L317.00,168.30 L316.00,169.20 L315.00,170.13 L314.00,171.11 L313.00,172.12 L312.00,173.17 L311.00,174.22 L310.00,175.30 L309.00,176.37 L308.00,177.44 L307.00,178.50 L306.00,179.53 L305.00,180.54 L304.00,181.51 L303.00,182.43 L302.00,183.30 L301.00,184.13 L300.00,184.93 L299.00,185.71 L298.00,186.47 L297.00,187.21 L296.00,187.94 L295.00,188.65 L294.00,189.35 L293.00,190.04 L292.00,190.72 L291.00,191.39 L290.00,192.06 L289.00,192.73 L288.00,193.40 L287.00,194.06 L286.00,194.71 L285.00,195.35 L284.00,195.98 L283.00,196.60 L282.00,197.21 L281.00,197.82 L280.00,198.42 L279.00,199.00 L278.00,199.57 L277.00,200.14 L276.00,200.70 L275.00,201.27 L274.00,201.83 L273.00,202.41 L272.00,203.00 L271.00,203.59 L270.00,204.20 L269.00,204.81 L268.00,205.41 L267.00,206.01 L266.00,206.59 L265.00,207.18 L264.00,207.77 L263.00,208.34 L262.00,208.89 L261.00,209.40 L260.00,209.87 L259.00,210.32 L258.00,210.75 L257.00,211.17 L256.00,211.60 L255.00,212.05 L254.00,212.51 L253.00,212.96 L252.00,213.40 L251.00,213.80 L250.00,214.22 L249.00,214.67 L248.00,215.09 L247.00,215.38 L246.00,215.50Z" fill="#C0B6FF"/>
<path d="M45.60,195.50 L46.60,195.50 L47.60,195.50 L48.60,195.50 L49.60,195.50 L50.60,195.50 L51.60,195.50 L52.60,195.50 L53.60,195.50 L54.60,195.50 L55.60,195.50 L56.60,195.50 L57.60,195.50 L58.60,195.50 L59.60,195.50 L60.60,195.50 L61.60,195.50 L62.60,195.50 L63.60,195.50 L64.60,195.50 L65.60,195.50 L66.60,195.50 L67.60,195.50 L68.60,195.50 L69.60,195.50 L70.60,195.50 L71.60,195.50 L72.60,195.50 L73.60,195.50 L74.60,195.50 L75.60,195.50 L76.60,195.50 L77.60,195.50 L78.60,195.50 L79.60,195.50 L80.60,195.50 L81.60,195.50 L82.60,195.50 L83.60,195.50 L84.60,195.50 L85.60,195.50 L86.60,195.50 L87.60,195.50 L88.60,195.50 L89.60,195.50 L90.60,195.50 L91.60,195.50 L92.60,195.50 L93.60,195.50 L94.60,195.50 L95.60,195.50 L96.60,195.50 L97.60,195.50 L98.60,195.50 L99.60,195.50 L100.60,195.50 L101.60,195.50 L102.60,195.50 L103.60,195.50 L104.60,195.50 L105.60,195.50 L106.60,195.50 L107.60,195.50 L108.60,195.50 L109.60,195.50 L110.60,195.50 L111.60,195.50 L112.60,195.50 L113.60,195.50 L114.60,195.50 L115.60,195.50 L116.60,195.50 L117.60,195.50 L118.60,195.50 L119.60,195.50 L120.60,195.50 L121.60,195.50 L122.60,195.50 L123.60,195.50 L124.60,195.50 L125.60,195.50 L126.60,195.50 L127.60,195.50 L128.60,195.50 L129.60,195.50 L130.60,195.50 L131.60,195.50 L132.60,195.50 L133.60,195.50 L134.60,195.50 L135.60,195.50 L136.60,195.50 L137.60,195.50 L138.60,195.50 L139.60,195.50 L140.60,195.50 L141.60,195.50 L142.60,195.50 L143.60,195.50 L144.60,195.50 L145.60,195.50 L146.60,195.50 L147.60,195.50 L148.60,195.50 L149.60,195.50 L150.60,195.50 L151.60,195.50 L152.60,195.50 L153.60,195.50 L154.60,195.50 L155.60,195.50 L156.60,195.50 L157.60,195.50 L158.60,195.50 L159.60,195.50 L160.60,195.50 L161.60,195.50 L162.60,195.50 L163.60,195.50 L164.60,195.50 L165.60,195.50 L166.60,195.50 L167.60,195.50 L168.60,195.50 L169.60,195.50 L170.60,195.50 L171.60,195.50 L172.60,195.50 L173.60,195.50 L174.60,195.50 L175.60,195.50 L176.60,195.50 L177.60,195.50 L178.60,195.50 L179.60,195.50 L180.60,195.50 L181.60,195.50 L182.60,195.50 L183.60,195.50 L184.60,195.50 L185.60,195.50 L186.60,195.50 L187.60,195.50 L188.60,195.50 L189.60,195.50 L190.60,195.50 L191.60,195.50 L192.60,195.50 L193.60,195.50 L194.60,195.50 L195.60,195.50 L196.60,195.50 L197.60,195.50 L198.60,195.50 L199.60,195.50 L200.60,195.50 L201.60,195.50 L202.60,195.49 L203.60,195.48 L204.60,195.47 L205.60,195.46 L206.60,195.45 L207.60,195.43 L208.60,195.41 L209.60,195.39 L210.60,195.37 L211.60,195.34 L212.60,195.32 L213.60,195.29 L214.60,195.26 L215.60,195.24 L216.60,195.21 L217.60,195.18 L218.60,195.14 L219.60,195.11 L220.60,195.08 L221.60,195.04 L222.60,194.99 L223.60,194.94 L224.60,194.88 L225.60,194.81 L226.60,194.74 L227.60,194.67 L228.60,194.59 L229.60,194.51 L230.60,194.42 L231.60,194.34 L232.60,194.25 L233.60,194.15 L234.60,194.05 L235.60,193.94 L236.60,193.83 L237.60,193.71 L238.60,193.58 L239.60,193.44 L240.60,193.29 L241.60,193.13 L242.60,192.96 L243.60,192.78 L244.60,192.57 L245.60,192.32 L246.60,192.03 L247.60,191.72 L248.60,191.38 L249.60,191.04 L250.60,190.69 L251.60,190.34 L252.60,189.98 L253.60,189.60 L254.60,189.19 L255.60,188.76 L256.60,188.31 L257.60,187.78 L258.60,187.21 L259.60,186.60 L260.60,186.00 L261.60,185.42 L262.60,184.89 L263.60,184.39 L264.60,183.91 L265.60,183.44 L266.60,182.96 L267.60,182.47 L268.60,181.95 L269.60,181.40 L270.60,180.80 L271.60,180.21 L272.60,179.63 L273.60,179.07 L274.60,178.53 L275.60,177.98 L276.60,177.43 L277.60,176.86 L278.60,176.28 L279.60,175.70 L280.60,175.12 L281.60,174.51 L282.60,173.90 L283.60,173.27 L284.60,172.62 L285.60,171.95 L286.60,171.28 L287.00,171.01" fill="none" stroke="#806CFF" stroke-width="1.0" stroke-dasharray="4.2 2" opacity="1.0"/>
<path d="M284.00,173.01 L285.00,172.35 L286.00,171.68 L287.00,171.01 L288.00,170.34 L289.00,169.67 L290.00,169.00 L291.00,168.35 L292.00,167.68 L293.00,167.01 L294.00,166.33 L295.00,165.63 L296.00,164.90 L297.00,164.15 L298.00,163.37 L299.00,162.57 L300.00,161.75 L301.00,160.92 L302.00,160.07 L303.00,159.22 L304.00,158.36 L305.00,157.49 L306.00,156.62 L307.00,155.76 L308.00,154.90 L309.00,154.04 L310.00,153.20 L311.00,152.36 L312.00,151.52 L313.00,150.68 L314.00,149.84 L315.00,149.00 L316.00,148.16 L317.00,147.32 L318.00,146.48 L319.00,145.64 L320.00,144.80 L321.00,143.96 L322.00,143.12 L323.00,142.28 L324.00,141.44 L325.00,140.60 L326.00,139.76 L327.00,138.92 L328.00,138.08 L329.00,137.24 L330.00,136.41 L331.00,135.57 L332.00,134.73 L333.00,133.89 L334.00,133.05 L335.00,132.21 L336.00,131.37 L337.00,130.53 L338.00,129.69 L339.00,128.84 L340.00,128.00 L341.00,127.15 L342.00,126.31 L343.00,125.46 L344.00,124.60 L345.00,123.75 L346.00,122.90 L347.00,122.05 L348.00,121.20 L349.00,120.35 L350.00,119.50 L351.00,118.65 L352.00,117.80 L353.00,116.96 L354.00,116.11 L355.00,115.27 L356.00,114.43 L357.00,113.59 L358.00,112.76 L359.00,111.92 L360.00,111.08 L361.00,110.24 L362.00,109.39 L363.00,108.55 L364.00,107.70 L365.00,106.85 L366.00,106.00 L367.00,105.15 L368.00,104.29 L369.00,103.44 L370.00,102.58 L371.00,101.73 L372.00,100.87 L373.00,100.01 L374.00,99.15 L375.00,98.29 L376.00,97.43 L377.00,96.57 L378.00,95.70 L379.00,94.84 L380.00,93.97 L380.60,93.45" fill="none" stroke="#806CFF" stroke-width="1.5"  opacity="1.0"/>
<path d="M45.60,221.30 L46.60,221.30 L47.60,221.30 L48.60,221.30 L49.60,221.30 L50.60,221.30 L51.60,221.30 L52.60,221.30 L53.60,221.30 L54.60,221.30 L55.60,221.30 L56.60,221.30 L57.60,221.30 L58.60,221.30 L59.60,221.30 L60.60,221.30 L61.60,221.30 L62.60,221.30 L63.60,221.30 L64.60,221.30 L65.60,221.30 L66.60,221.30 L67.60,221.30 L68.60,221.30 L69.60,221.30 L70.60,221.30 L71.60,221.30 L72.60,221.30 L73.60,221.30 L74.60,221.30 L75.60,221.30 L76.60,221.30 L77.60,221.30 L78.60,221.30 L79.60,221.30 L80.60,221.30 L81.60,221.30 L82.60,221.30 L83.60,221.30 L84.60,221.30 L85.60,221.30 L86.60,221.30 L87.60,221.30 L88.60,221.30 L89.60,221.30 L90.60,221.30 L91.60,221.30 L92.60,221.30 L93.60,221.30 L94.60,221.30 L95.60,221.30 L96.60,221.30 L97.60,221.30 L98.60,221.30 L99.60,221.30 L100.60,221.30 L101.60,221.30 L102.60,221.30 L103.60,221.30 L104.60,221.30 L105.60,221.30 L106.60,221.30 L107.60,221.30 L108.60,221.30 L109.60,221.30 L110.60,221.30 L111.60,221.30 L112.60,221.30 L113.60,221.30 L114.60,221.30 L115.60,221.30 L116.60,221.30 L117.60,221.30 L118.60,221.30 L119.60,221.30 L120.60,221.30 L121.60,221.30 L122.60,221.30 L123.60,221.30 L124.60,221.30 L125.60,221.30 L126.60,221.30 L127.60,221.30 L128.60,221.29 L129.60,221.29 L130.60,221.29 L131.60,221.29 L132.60,221.29 L133.60,221.29 L134.60,221.29 L135.60,221.28 L136.60,221.28 L137.60,221.28 L138.60,221.28 L139.60,221.27 L140.60,221.27 L141.60,221.27 L142.60,221.27 L143.60,221.26 L144.60,221.26 L145.60,221.26 L146.60,221.25 L147.60,221.25 L148.60,221.24 L149.60,221.24 L150.60,221.24 L151.60,221.23 L152.60,221.23 L153.60,221.22 L154.60,221.22 L155.60,221.21 L156.60,221.21 L157.60,221.21 L158.60,221.20 L159.60,221.19 L160.60,221.19 L161.60,221.18 L162.60,221.18 L163.60,221.17 L164.60,221.17 L165.60,221.16 L166.60,221.16 L167.60,221.15 L168.60,221.14 L169.60,221.14 L170.60,221.13 L171.60,221.12 L172.60,221.12 L173.60,221.11 L174.60,221.10 L175.60,221.10 L176.60,221.09 L177.60,221.07 L178.60,221.06 L179.60,221.05 L180.60,221.03 L181.60,221.01 L182.60,220.99 L183.60,220.97 L184.60,220.95 L185.60,220.92 L186.60,220.90 L187.60,220.87 L188.60,220.84 L189.60,220.81 L190.60,220.78 L191.60,220.75 L192.60,220.71 L193.60,220.66 L194.60,220.62 L195.60,220.56 L196.60,220.51 L197.60,220.45 L198.60,220.38 L199.60,220.32 L200.60,220.25 L201.60,220.17 L202.60,220.10 L203.60,220.02 L204.60,219.93 L205.60,219.85 L206.60,219.75 L207.60,219.63 L208.60,219.51 L209.60,219.37 L210.60,219.23 L211.60,219.07 L212.60,218.89 L213.60,218.70 L214.60,218.47 L215.60,218.23 L216.60,217.97 L217.60,217.70 L218.60,217.41 L219.60,217.12 L220.60,216.82 L221.60,216.49 L222.60,216.14 L223.60,215.78 L224.60,215.40 L225.60,215.00 L226.60,214.60 L227.60,214.18 L228.60,213.76 L229.60,213.32 L230.60,212.87 L231.60,212.39 L232.60,211.90 L233.60,211.40 L234.60,210.88 L235.60,210.34 L236.60,209.77 L237.60,209.17 L238.60,208.55 L239.60,207.92 L240.60,207.28 L241.60,206.63 L242.60,205.99 L243.60,205.35 L244.60,204.73 L245.60,204.11 L246.60,203.50 L247.60,202.89 L248.60,202.28 L249.60,201.65 L250.60,201.02 L251.60,200.37 L252.60,199.70 L253.60,199.01 L254.60,198.31 L255.60,197.59 L256.60,196.85 L257.60,196.10 L258.60,195.34 L259.60,194.55 L260.60,193.74 L261.60,192.92 L262.60,192.08 L263.60,191.24 L264.60,190.39 L265.60,189.52 L266.60,188.64 L267.60,187.75 L268.60,186.85 L269.60,185.96 L270.60,185.06 L271.60,184.16 L272.60,183.25 L273.60,182.36 L274.60,181.47 L275.60,180.59 L276.60,179.72 L277.60,178.86 L278.60,177.99 L279.60,177.14 L280.60,176.29 L281.60,175.45 L282.60,174.62 L283.60,173.79 L284.60,172.97 L285.60,172.25 L286.00,171.98" fill="none" stroke="#806CFF" stroke-width="1.0" stroke-dasharray="4.2 2" opacity="1.0"/>
<path d="M246.00,215.50 L247.00,214.33 L248.00,212.40 L249.00,210.89 L250.00,209.40 L251.00,207.97 L252.00,206.50 L253.00,204.87 L254.00,203.20 L255.00,201.58 L256.00,200.00 L257.00,198.45 L258.00,197.10 L259.00,196.32 L260.00,195.53 L261.00,194.71 L262.00,193.89 L263.00,193.05 L264.00,192.20 L265.00,191.34 L266.00,190.47 L267.00,189.58 L268.00,188.69 L269.00,187.79 L270.00,186.90 L271.00,186.06 L272.00,185.47 L273.00,184.91 L274.00,184.36 L275.00,183.81 L276.00,183.25 L277.00,182.68 L278.00,182.09 L279.00,181.50 L280.00,180.89 L281.00,180.28 L282.00,179.65 L283.00,179.00 L284.00,178.33 L285.00,177.65 L286.00,176.96 L287.00,176.27 L288.00,175.57 L289.00,174.89 L290.00,174.21 L291.00,173.55 L292.00,172.88 L293.00,172.21 L294.00,171.53 L295.00,170.83 L296.00,170.10 L297.00,169.35 L298.00,168.57 L299.00,167.77 L300.00,166.95 L301.00,166.12 L302.00,165.27 L303.00,164.42 L304.00,163.56 L305.00,162.69 L306.00,161.82 L307.00,160.96 L308.00,160.10 L309.00,159.24 L310.00,158.40 L311.00,157.56 L312.00,156.72 L313.00,155.88 L314.00,155.05 L315.00,154.21 L316.00,153.37 L317.00,152.53 L318.00,151.69 L319.00,150.85 L320.00,150.02 L321.00,149.18 L322.00,148.34 L323.00,147.51 L324.00,146.67 L325.00,145.84 L326.00,145.00 L327.00,144.17 L328.00,143.34 L329.00,142.51 L330.00,141.68 L331.00,140.84 L332.00,140.01 L333.00,139.18 L334.00,138.35 L335.00,137.52 L336.00,136.69 L337.00,135.86 L338.00,135.02 L339.00,134.19 L340.00,133.35 L341.00,132.52 L342.00,131.68 L343.00,130.84 L344.00,130.00 L345.00,129.15 L346.00,128.31 L347.00,127.47 L348.00,126.63 L349.00,125.79 L350.00,124.95 L351.00,124.11 L352.00,123.27 L353.00,122.44 L354.00,121.60 L355.00,120.77 L356.00,119.94 L357.00,119.12 L358.00,118.29 L359.00,117.46 L360.00,116.63 L361.00,115.81 L362.00,114.98 L363.00,114.14 L364.00,113.31 L365.00,112.48 L366.00,111.64 L367.00,110.80 L368.00,109.97 L369.00,109.13 L370.00,108.29 L371.00,107.45 L372.00,106.61 L373.00,105.77 L374.00,104.92 L375.00,104.08 L376.00,103.24 L377.00,102.39 L378.00,101.55 L379.00,100.70 L380.00,99.85 L380.60,99.34" fill="none" stroke="#806CFF" stroke-width="1.15" stroke-dasharray="4.2 2" opacity="1.0"/>
<path d="M246.00,215.50 L247.00,215.38 L248.00,215.09 L249.00,214.67 L250.00,214.22 L251.00,213.80 L252.00,213.40 L253.00,212.96 L254.00,212.51 L255.00,212.05 L256.00,211.60 L257.00,211.17 L258.00,210.75 L259.00,210.32 L260.00,209.87 L261.00,209.40 L262.00,208.89 L263.00,208.34 L264.00,207.77 L265.00,207.18 L266.00,206.59 L267.00,206.01 L268.00,205.41 L269.00,204.81 L270.00,204.20 L271.00,203.59 L272.00,203.00 L273.00,202.41 L274.00,201.83 L275.00,201.27 L276.00,200.70 L277.00,200.14 L278.00,199.57 L279.00,199.00 L280.00,198.42 L281.00,197.82 L282.00,197.21 L283.00,196.60 L284.00,195.98 L285.00,195.35 L286.00,194.71 L287.00,194.06 L288.00,193.40 L289.00,192.73 L290.00,192.06 L291.00,191.39 L292.00,190.72 L293.00,190.04 L294.00,189.35 L295.00,188.65 L296.00,187.94 L297.00,187.21 L298.00,186.47 L299.00,185.71 L300.00,184.93 L301.00,184.13 L302.00,183.30 L303.00,182.43 L304.00,181.51 L305.00,180.54 L306.00,179.53 L307.00,178.50 L308.00,177.44 L309.00,176.37 L310.00,175.30 L311.00,174.22 L312.00,173.17 L313.00,172.12 L314.00,171.11 L315.00,170.13 L316.00,169.20 L317.00,168.30 L318.00,167.42 L319.00,166.55 L320.00,165.70 L321.00,164.86 L322.00,164.03 L323.00,163.21 L324.00,162.40 L325.00,161.60 L326.00,160.80 L327.00,160.01 L328.00,159.21 L329.00,158.42 L330.00,157.63 L331.00,156.84 L332.00,156.05 L333.00,155.25 L334.00,154.44 L335.00,153.62 L336.00,152.80 L337.00,151.97 L338.00,151.15 L339.00,150.32 L340.00,149.50 L341.00,148.67 L342.00,147.85 L343.00,147.03 L344.00,146.20 L345.00,145.38 L346.00,144.56 L347.00,143.73 L348.00,142.91 L349.00,142.08 L350.00,141.25 L351.00,140.42 L352.00,139.58 L353.00,138.75 L354.00,137.91 L355.00,137.07 L356.00,136.22 L357.00,135.37 L358.00,134.52 L359.00,133.66 L360.00,132.80 L361.00,131.93 L362.00,131.06 L363.00,130.18 L364.00,129.30 L365.00,128.41 L366.00,127.52 L367.00,126.62 L368.00,125.71 L369.00,124.80 L370.00,123.88 L371.00,122.96 L372.00,122.03 L373.00,121.10 L374.00,120.16 L375.00,119.22 L376.00,118.28 L377.00,117.33 L378.00,116.38 L379.00,115.42 L380.00,114.46 L380.60,113.89" fill="none" stroke="#806CFF" stroke-width="1.0" stroke-dasharray="4.2 2" opacity="1.0"/>
<path d="M262.00,200.39 L263.00,199.91 L264.00,199.40 L265.00,198.88 L266.00,198.35 L267.00,197.83 L268.00,197.30 L269.00,196.77 L270.00,196.24 L271.00,195.71 L272.00,195.20 L273.00,194.71 L274.00,194.24 L275.00,193.80 L276.00,193.36 L277.00,192.94 L278.00,192.51 L279.00,192.08 L280.00,191.64 L281.00,191.17 L282.00,190.70 L283.00,190.20 L284.00,189.69 L285.00,189.17 L286.00,188.63 L287.00,188.08 L288.00,187.52 L289.00,186.95 L290.00,186.38 L291.00,185.81 L292.00,185.23 L293.00,184.64 L294.00,184.05 L295.00,183.44 L296.00,182.82 L297.00,182.19 L298.00,181.53 L299.00,180.86 L300.00,180.17 L301.00,179.45 L302.00,178.70 L303.00,177.91 L304.00,177.06 L305.00,176.17 L306.00,175.24 L307.00,174.28 L308.00,173.30 L309.00,172.31 L310.00,171.30 L311.00,170.30 L312.00,169.31 L313.00,168.34 L314.00,167.39 L315.00,166.47 L316.00,165.60 L317.00,164.76 L318.00,163.93 L319.00,163.12 L320.00,162.33 L321.00,161.54 L322.00,160.77 L323.00,160.00 L324.00,159.25 L325.00,158.50 L326.00,157.75 L327.00,157.00 L328.00,156.26 L329.00,155.52 L330.00,154.78 L331.00,154.03 L332.00,153.28 L333.00,152.52 L334.00,151.76 L335.00,150.98 L336.00,150.20 L337.00,149.41 L338.00,148.62 L339.00,147.83 L340.00,147.05 L341.00,146.26 L342.00,145.47 L343.00,144.68 L344.00,143.89 L345.00,143.10 L346.00,142.31 L347.00,141.52 L348.00,140.72 L349.00,139.93 L350.00,139.13 L351.00,138.33 L352.00,137.53 L353.00,136.72 L354.00,135.91 L355.00,135.10 L356.00,134.28 L357.00,133.46 L358.00,132.64 L359.00,131.81 L360.00,130.98 L361.00,130.14 L362.00,129.30 L363.00,128.45 L364.00,127.60 L365.00,126.74 L366.00,125.88 L367.00,125.01 L368.00,124.13 L369.00,123.25 L370.00,122.36 L371.00,121.47 L372.00,120.57 L373.00,119.67 L374.00,118.76 L375.00,117.85 L376.00,116.93 L377.00,116.01 L378.00,115.09 L379.00,114.16 L380.00,113.23 L380.60,112.67" fill="none" stroke="#806CFF" stroke-width="1.0" stroke-dasharray="4.2 2" opacity="1.0"/>
<path d="M45.60,248.20 L46.60,248.20 L47.60,248.20 L48.60,248.20 L49.60,248.20 L50.60,248.20 L51.60,248.20 L52.60,248.20 L53.60,248.20 L54.60,248.20 L55.60,248.20 L56.60,248.20 L57.60,248.20 L58.60,248.20 L59.60,248.20 L60.60,248.20 L61.60,248.20 L62.60,248.20 L63.60,248.20 L64.60,248.20 L65.60,248.20 L66.60,248.20 L67.60,248.20 L68.60,248.20 L69.60,248.20 L70.60,248.20 L71.60,248.20 L72.60,248.20 L73.60,248.20 L74.60,248.20 L75.60,248.20 L76.60,248.20 L77.60,248.20 L78.60,248.20 L79.60,248.20 L80.60,248.20 L81.60,248.20 L82.60,248.20 L83.60,248.20 L84.60,248.20 L85.60,248.20 L86.60,248.20 L87.60,248.20 L88.60,248.20 L89.60,248.20 L90.60,248.20 L91.60,248.20 L92.60,248.20 L93.60,248.20 L94.60,248.20 L95.60,248.20 L96.60,248.20 L97.60,248.20 L98.60,248.20 L99.60,248.20 L100.60,248.20 L101.60,248.20 L102.60,248.20 L103.60,248.20 L104.60,248.19 L105.60,248.19 L106.60,248.19 L107.60,248.19 L108.60,248.19 L109.60,248.19 L110.60,248.19 L111.60,248.19 L112.60,248.19 L113.60,248.19 L114.60,248.19 L115.60,248.19 L116.60,248.19 L117.60,248.19 L118.60,248.19 L119.60,248.19 L120.60,248.19 L121.60,248.19 L122.60,248.19 L123.60,248.19 L124.60,248.18 L125.60,248.18 L126.60,248.18 L127.60,248.18 L128.60,248.18 L129.60,248.18 L130.60,248.18 L131.60,248.18 L132.60,248.18 L133.60,248.18 L134.60,248.17 L135.60,248.17 L136.60,248.17 L137.60,248.17 L138.60,248.17 L139.60,248.17 L140.60,248.16 L141.60,248.16 L142.60,248.16 L143.60,248.16 L144.60,248.16 L145.60,248.15 L146.60,248.15 L147.60,248.15 L148.60,248.15 L149.60,248.14 L150.60,248.14 L151.60,248.14 L152.60,248.13 L153.60,248.13 L154.60,248.13 L155.60,248.12 L156.60,248.12 L157.60,248.11 L158.60,248.11 L159.60,248.10 L160.60,248.10 L161.60,248.09 L162.60,248.09 L163.60,248.08 L164.60,248.07 L165.60,248.07 L166.60,248.06 L167.60,248.05 L168.60,248.04 L169.60,248.03 L170.60,248.02 L171.60,248.01 L172.60,248.00 L173.60,247.99 L174.60,247.98 L175.60,247.97 L176.60,247.96 L177.60,247.94 L178.60,247.93 L179.60,247.92 L180.60,247.90 L181.60,247.88 L182.60,247.87 L183.60,247.85 L184.60,247.83 L185.60,247.81 L186.60,247.79 L187.60,247.77 L188.60,247.74 L189.60,247.72 L190.60,247.69 L191.60,247.66 L192.60,247.63 L193.60,247.60 L194.60,247.57 L195.60,247.54 L196.60,247.50 L197.60,247.46 L198.60,247.42 L199.60,247.38 L200.60,247.34 L201.60,247.29 L202.60,247.24 L203.60,247.19 L204.60,247.14 L205.60,247.08 L206.60,247.02 L207.60,246.96 L208.60,246.90 L209.60,246.83 L210.60,246.76 L211.60,246.68 L212.60,246.60 L213.60,246.52 L214.60,246.43 L215.60,246.34 L216.60,246.24 L217.60,246.14 L218.60,246.03 L219.60,245.92 L220.60,245.80 L221.60,245.68 L222.60,245.55 L223.60,245.42 L224.60,245.28 L225.60,245.13 L226.60,244.98 L227.60,244.82 L228.60,244.66 L229.60,244.48 L230.60,244.30 L231.60,244.11 L232.60,243.91 L233.60,243.71 L234.60,243.49 L235.60,243.27 L236.60,243.04 L237.60,242.80 L238.60,242.55 L239.60,242.29 L240.60,242.02 L241.60,241.74 L242.60,241.45 L243.60,241.15 L244.60,240.83 L245.60,240.51 L246.60,240.18 L247.60,239.84 L248.60,239.48 L249.60,239.12 L250.60,238.74 L251.60,238.35 L252.60,237.95 L253.60,237.54 L254.60,237.12 L255.60,236.68 L256.60,236.24 L257.60,235.78 L258.60,235.31 L259.60,234.83 L260.60,234.34 L261.60,233.84 L262.60,233.32 L263.60,232.80 L264.60,232.27 L265.60,231.72 L266.60,231.16 L267.60,230.60 L268.60,230.02 L269.60,229.43 L270.60,228.84 L271.60,228.23 L272.60,227.61 L273.60,226.99 L274.60,226.36 L275.60,225.71 L276.60,225.06 L277.60,224.40 L278.60,223.74 L279.60,223.06 L280.60,222.38 L281.60,221.69 L282.60,220.99 L283.60,220.29 L284.60,219.58 L285.60,218.86 L286.60,218.14 L287.60,217.41 L288.60,216.68 L289.60,215.94 L290.60,215.19 L291.60,214.44 L292.60,213.68 L293.60,212.92 L294.60,212.16 L295.60,211.39 L296.60,210.62 L297.60,209.84 L298.60,209.06 L299.60,208.28 L300.60,207.49 L301.60,206.70 L302.60,205.91 L303.60,205.11 L304.60,204.31 L305.60,203.51 L306.60,202.70 L307.60,201.89 L308.60,201.08 L309.60,200.27 L310.60,199.46 L311.60,198.64 L312.60,197.82 L313.60,197.00 L314.60,196.18 L315.60,195.35 L316.60,194.53 L317.60,193.70 L318.60,192.87 L319.60,192.04 L320.60,191.21 L321.60,190.38 L322.60,189.54 L323.60,188.71 L324.60,187.87 L325.60,187.04 L326.60,186.20 L327.60,185.36 L328.60,184.52 L329.60,183.68 L330.60,182.84 L331.60,182.00 L332.60,181.15 L333.60,180.31 L334.60,179.46 L335.60,178.62 L336.60,177.77 L337.60,176.93 L338.60,176.08 L339.60,175.23 L340.60,174.39 L341.60,173.54 L342.60,172.69 L343.60,171.84 L344.60,170.99 L345.60,170.14 L346.60,169.29 L347.60,168.44 L348.60,167.59 L349.60,166.74 L350.60,165.89 L351.60,165.04 L352.60,164.19 L353.60,163.34 L354.60,162.48 L355.60,161.63 L356.60,160.78 L357.60,159.93 L358.60,159.07 L359.60,158.22 L360.60,157.37 L361.60,156.51 L362.60,155.66 L363.60,154.81 L364.60,153.95 L365.60,153.10 L366.60,152.25 L367.60,151.39 L368.60,150.54 L369.60,149.68 L370.60,148.83 L371.60,147.98 L372.60,147.12 L373.60,146.27 L374.60,145.41 L375.60,144.56 L376.60,143.70 L377.60,142.85 L378.60,141.99 L379.60,141.14 L380.60,140.28 L380.60,140.00 L379.60,140.87 L378.60,141.74 L377.60,142.61 L376.60,143.48 L375.60,144.35 L374.60,145.22 L373.60,146.09 L372.60,146.96 L371.60,147.82 L370.60,148.69 L369.60,149.56 L368.60,150.42 L367.60,151.29 L366.60,152.15 L365.60,153.02 L364.60,153.88 L363.60,154.75 L362.60,155.61 L361.60,156.47 L360.60,157.33 L359.60,158.20 L358.60,159.06 L357.60,159.92 L356.60,160.78 L355.60,161.64 L354.60,162.50 L353.60,163.36 L352.60,164.22 L351.60,165.08 L350.60,165.94 L349.60,166.80 L348.60,167.66 L347.60,168.51 L346.60,169.37 L345.60,170.22 L344.60,171.08 L343.60,171.93 L342.60,172.79 L341.60,173.64 L340.60,174.49 L339.60,175.34 L338.60,176.19 L337.60,177.04 L336.60,177.89 L335.60,178.74 L334.60,179.59 L333.60,180.43 L332.60,181.28 L331.60,182.12 L330.60,182.97 L329.60,183.81 L328.60,184.65 L327.60,185.49 L326.60,186.33 L325.60,187.17 L324.60,188.00 L323.60,188.83 L322.60,189.66 L321.60,190.49 L320.60,191.32 L319.60,192.15 L318.60,192.97 L317.60,193.80 L316.60,194.62 L315.60,195.44 L314.60,196.26 L313.60,197.07 L312.60,197.89 L311.60,198.70 L310.60,199.51 L309.60,200.32 L308.60,201.13 L307.60,201.93 L306.60,202.73 L305.60,203.53 L304.60,204.33 L303.60,205.13 L302.60,205.92 L301.60,206.72 L300.60,207.52 L299.60,208.32 L298.60,209.13 L297.60,209.94 L296.60,210.75 L295.60,211.56 L294.60,212.36 L293.60,213.15 L292.60,213.94 L291.60,214.71 L290.60,215.46 L289.60,216.21 L288.60,216.95 L287.60,217.69 L286.60,218.41 L285.60,219.14 L284.60,219.87 L283.60,220.59 L282.60,221.31 L281.60,222.03 L280.60,222.74 L279.60,223.45 L278.60,224.16 L277.60,224.87 L276.60,225.58 L275.60,226.28 L274.60,226.99 L273.60,227.70 L272.60,228.41 L271.60,229.11 L270.60,229.81 L269.60,230.51 L268.60,231.19 L267.60,231.87 L266.60,232.54 L265.60,233.21 L264.60,233.87 L263.60,234.52 L262.60,235.17 L261.60,235.80 L260.60,236.43 L259.60,237.04 L258.60,237.65 L257.60,238.24 L256.60,238.82 L255.60,239.40 L254.60,239.96 L253.60,240.52 L252.60,241.07 L251.60,241.62 L250.60,242.16 L249.60,242.68 L248.60,243.20 L247.60,243.70 L246.60,244.18 L245.60,244.66 L244.60,245.12 L243.60,245.58 L242.60,246.04 L241.60,246.49 L240.60,246.94 L239.60,247.37 L238.60,247.81 L237.60,248.24 L236.60,248.66 L235.60,249.06 L234.60,249.45 L233.60,249.83 L232.60,250.19 L231.60,250.53 L230.60,250.87 L229.60,251.20 L228.60,251.52 L227.60,251.83 L226.60,252.12 L225.60,252.40 L224.60,252.66 L223.60,252.89 L222.60,253.12 L221.60,253.34 L220.60,253.54 L219.60,253.74 L218.60,253.92 L217.60,254.08 L216.60,254.22 L215.60,254.35 L214.60,254.46 L213.60,254.56 L212.60,254.65 L211.60,254.74 L210.60,254.82 L209.60,254.89 L208.60,254.96 L207.60,255.03 L206.60,255.09 L205.60,255.14 L204.60,255.20 L203.60,255.25 L202.60,255.29 L201.60,255.34 L200.60,255.38 L199.60,255.42 L198.60,255.45 L197.60,255.49 L196.60,255.53 L195.60,255.56 L194.60,255.60 L193.60,255.63 L192.60,255.65 L191.60,255.68 L190.60,255.69 L189.60,255.70 L188.60,255.71 L187.60,255.72 L186.60,255.73 L185.60,255.74 L184.60,255.75 L183.60,255.76 L182.60,255.77 L181.60,255.78 L180.60,255.78 L179.60,255.79 L178.60,255.80 L177.60,255.80 L176.60,255.81 L175.60,255.82 L174.60,255.82 L173.60,255.83 L172.60,255.84 L171.60,255.84 L170.60,255.85 L169.60,255.85 L168.60,255.86 L167.60,255.86 L166.60,255.87 L165.60,255.87 L164.60,255.87 L163.60,255.88 L162.60,255.88 L161.60,255.88 L160.60,255.89 L159.60,255.89 L158.60,255.89 L157.60,255.89 L156.60,255.89 L155.60,255.90 L154.60,255.90 L153.60,255.90 L152.60,255.90 L151.60,255.90 L150.60,255.90 L149.60,255.90 L148.60,255.90 L147.60,255.90 L146.60,255.90 L145.60,255.90 L144.60,255.90 L143.60,255.90 L142.60,255.90 L141.60,255.90 L140.60,255.90 L139.60,255.90 L138.60,255.90 L137.60,255.90 L136.60,255.90 L135.60,255.90 L134.60,255.90 L133.60,255.90 L132.60,255.90 L131.60,255.90 L130.60,255.90 L129.60,255.90 L128.60,255.90 L127.60,255.90 L126.60,255.90 L125.60,255.90 L124.60,255.90 L123.60,255.90 L122.60,255.90 L121.60,255.90 L120.60,255.90 L119.60,255.90 L118.60,255.90 L117.60,255.90 L116.60,255.90 L115.60,255.90 L114.60,255.90 L113.60,255.90 L112.60,255.90 L111.60,255.90 L110.60,255.90 L109.60,255.90 L108.60,255.90 L107.60,255.90 L106.60,255.90 L105.60,255.90 L104.60,255.90 L103.60,255.90 L102.60,255.90 L101.60,255.90 L100.60,255.90 L99.60,255.90 L98.60,255.90 L97.60,255.90 L96.60,255.90 L95.60,255.90 L94.60,255.90 L93.60,255.90 L92.60,255.90 L91.60,255.90 L90.60,255.90 L89.60,255.90 L88.60,255.90 L87.60,255.90 L86.60,255.90 L85.60,255.90 L84.60,255.90 L83.60,255.90 L82.60,255.90 L81.60,255.90 L80.60,255.90 L79.60,255.90 L78.60,255.90 L77.60,255.90 L76.60,255.90 L75.60,255.90 L74.60,255.90 L73.60,255.90 L72.60,255.90 L71.60,255.90 L70.60,255.90 L69.60,255.90 L68.60,255.90 L67.60,255.90 L66.60,255.90 L65.60,255.90 L64.60,255.90 L63.60,255.90 L62.60,255.90 L61.60,255.90 L60.60,255.90 L59.60,255.90 L58.60,255.90 L57.60,255.90 L56.60,255.90 L55.60,255.90 L54.60,255.90 L53.60,255.90 L52.60,255.90 L51.60,255.90 L50.60,255.90 L49.60,255.90 L48.60,255.90 L47.60,255.90 L46.60,255.90 L45.60,255.90Z" fill="#858585"/>
<path d="M45.60,248.20 L46.60,248.20 L47.60,248.20 L48.60,248.20 L49.60,248.20 L50.60,248.20 L51.60,248.20 L52.60,248.20 L53.60,248.20 L54.60,248.20 L55.60,248.20 L56.60,248.20 L57.60,248.20 L58.60,248.20 L59.60,248.20 L60.60,248.20 L61.60,248.20 L62.60,248.20 L63.60,248.20 L64.60,248.20 L65.60,248.20 L66.60,248.20 L67.60,248.20 L68.60,248.20 L69.60,248.20 L70.60,248.20 L71.60,248.20 L72.60,248.20 L73.60,248.20 L74.60,248.20 L75.60,248.20 L76.60,248.20 L77.60,248.20 L78.60,248.20 L79.60,248.20 L80.60,248.20 L81.60,248.20 L82.60,248.20 L83.60,248.20 L84.60,248.20 L85.60,248.20 L86.60,248.20 L87.60,248.20 L88.60,248.20 L89.60,248.20 L90.60,248.20 L91.60,248.20 L92.60,248.20 L93.60,248.20 L94.60,248.20 L95.60,248.20 L96.60,248.20 L97.60,248.20 L98.60,248.20 L99.60,248.20 L100.60,248.20 L101.60,248.20 L102.60,248.20 L103.60,248.20 L104.60,248.19 L105.60,248.19 L106.60,248.19 L107.60,248.19 L108.60,248.19 L109.60,248.19 L110.60,248.19 L111.60,248.19 L112.60,248.19 L113.60,248.19 L114.60,248.19 L115.60,248.19 L116.60,248.19 L117.60,248.19 L118.60,248.19 L119.60,248.19 L120.60,248.19 L121.60,248.19 L122.60,248.19 L123.60,248.19 L124.60,248.18 L125.60,248.18 L126.60,248.18 L127.60,248.18 L128.60,248.18 L129.60,248.18 L130.60,248.18 L131.60,248.18 L132.60,248.18 L133.60,248.18 L134.60,248.17 L135.60,248.17 L136.60,248.17 L137.60,248.17 L138.60,248.17 L139.60,248.17 L140.60,248.16 L141.60,248.16 L142.60,248.16 L143.60,248.16 L144.60,248.16 L145.60,248.15 L146.60,248.15 L147.60,248.15 L148.60,248.15 L149.60,248.14 L150.60,248.14 L151.60,248.14 L152.60,248.13 L153.60,248.13 L154.60,248.13 L155.60,248.12 L156.60,248.12 L157.60,248.11 L158.60,248.11 L159.60,248.10 L160.60,248.10 L161.60,248.09 L162.60,248.09 L163.60,248.08 L164.60,248.07 L165.60,248.07 L166.60,248.06 L167.60,248.05 L168.60,248.04 L169.60,248.03 L170.60,248.02 L171.60,248.01 L172.60,248.00 L173.60,247.99 L174.60,247.98 L175.60,247.97 L176.60,247.96 L177.60,247.94 L178.60,247.93 L179.60,247.92 L180.60,247.90 L181.60,247.88 L182.60,247.87 L183.60,247.85 L184.60,247.83 L185.60,247.81 L186.60,247.79 L187.60,247.77 L188.60,247.74 L189.60,247.72 L190.60,247.69 L191.60,247.66 L192.60,247.63 L193.60,247.60 L194.60,247.57 L195.60,247.54 L196.60,247.50 L197.60,247.46 L198.60,247.42 L199.60,247.38 L200.60,247.34 L201.60,247.29 L202.60,247.24 L203.60,247.19 L204.60,247.14 L205.60,247.08 L206.60,247.02 L207.60,246.96 L208.60,246.90 L209.60,246.83 L210.60,246.76 L211.60,246.68 L212.60,246.60 L213.60,246.52 L214.60,246.43 L215.60,246.34 L216.60,246.24 L217.60,246.14 L218.60,246.03 L219.60,245.92 L220.60,245.80 L221.60,245.68 L222.60,245.55 L223.60,245.42 L224.60,245.28 L225.60,245.13 L226.60,244.98 L227.60,244.82 L228.60,244.66 L229.60,244.48 L230.60,244.30 L231.60,244.11 L232.60,243.91 L233.60,243.71 L234.60,243.49 L235.60,243.27 L236.60,243.04 L237.60,242.80 L238.60,242.55 L239.60,242.29 L240.60,242.02 L241.60,241.74 L242.60,241.45 L243.60,241.15 L244.60,240.83 L245.60,240.51 L246.60,240.18 L247.60,239.84 L248.60,239.48 L249.60,239.12 L250.60,238.74 L251.60,238.35 L252.60,237.95 L253.60,237.54 L254.60,237.12 L255.60,236.68 L256.60,236.24 L257.60,235.78 L258.60,235.31 L259.60,234.83 L260.60,234.34 L261.60,233.84 L262.60,233.32 L263.60,232.80 L264.60,232.27 L265.60,231.72 L266.60,231.16 L267.60,230.60 L268.60,230.02 L269.60,229.43 L270.60,228.84 L271.60,228.23 L272.60,227.61 L273.60,226.99 L274.60,226.36 L275.60,225.71 L276.60,225.06 L277.60,224.40 L278.60,223.74 L279.60,223.06 L280.60,222.38 L281.60,221.69 L282.00,221.41" fill="none" stroke="#1a1a1a" stroke-width="1.0" stroke-dasharray="4.2 2" opacity="1.0"/>
<path d="M45.60,255.90 L46.60,255.90 L47.60,255.90 L48.60,255.90 L49.60,255.90 L50.60,255.90 L51.60,255.90 L52.60,255.90 L53.60,255.90 L54.60,255.90 L55.60,255.90 L56.60,255.90 L57.60,255.90 L58.60,255.90 L59.60,255.90 L60.60,255.90 L61.60,255.90 L62.60,255.90 L63.60,255.90 L64.60,255.90 L65.60,255.90 L66.60,255.90 L67.60,255.90 L68.60,255.90 L69.60,255.90 L70.60,255.90 L71.60,255.90 L72.60,255.90 L73.60,255.90 L74.60,255.90 L75.60,255.90 L76.60,255.90 L77.60,255.90 L78.60,255.90 L79.60,255.90 L80.60,255.90 L81.60,255.90 L82.60,255.90 L83.60,255.90 L84.60,255.90 L85.60,255.90 L86.60,255.90 L87.60,255.90 L88.60,255.90 L89.60,255.90 L90.60,255.90 L91.60,255.90 L92.60,255.90 L93.60,255.90 L94.60,255.90 L95.60,255.90 L96.60,255.90 L97.60,255.90 L98.60,255.90 L99.60,255.90 L100.60,255.90 L101.60,255.90 L102.60,255.90 L103.60,255.90 L104.60,255.90 L105.60,255.90 L106.60,255.90 L107.60,255.90 L108.60,255.90 L109.60,255.90 L110.60,255.90 L111.60,255.90 L112.60,255.90 L113.60,255.90 L114.60,255.90 L115.60,255.90 L116.60,255.90 L117.60,255.90 L118.60,255.90 L119.60,255.90 L120.60,255.90 L121.60,255.90 L122.60,255.90 L123.60,255.90 L124.60,255.90 L125.60,255.90 L126.60,255.90 L127.60,255.90 L128.60,255.90 L129.60,255.90 L130.60,255.90 L131.60,255.90 L132.60,255.90 L133.60,255.90 L134.60,255.90 L135.60,255.90 L136.60,255.90 L137.60,255.90 L138.60,255.90 L139.60,255.90 L140.60,255.90 L141.60,255.90 L142.60,255.90 L143.60,255.90 L144.60,255.90 L145.60,255.90 L146.60,255.90 L147.60,255.90 L148.60,255.90 L149.60,255.90 L150.60,255.90 L151.60,255.90 L152.60,255.90 L153.60,255.90 L154.60,255.90 L155.60,255.90 L156.60,255.89 L157.60,255.89 L158.60,255.89 L159.60,255.89 L160.60,255.89 L161.60,255.88 L162.60,255.88 L163.60,255.88 L164.60,255.87 L165.60,255.87 L166.60,255.87 L167.60,255.86 L168.60,255.86 L169.60,255.85 L170.60,255.85 L171.60,255.84 L172.60,255.84 L173.60,255.83 L174.60,255.82 L175.60,255.82 L176.60,255.81 L177.60,255.80 L178.60,255.80 L179.60,255.79 L180.60,255.78 L181.60,255.78 L182.60,255.77 L183.60,255.76 L184.60,255.75 L185.60,255.74 L186.60,255.73 L187.60,255.72 L188.60,255.71 L189.60,255.70 L190.60,255.69 L191.60,255.68 L192.60,255.65 L193.60,255.63 L194.60,255.60 L195.60,255.56 L196.60,255.53 L197.60,255.49 L198.60,255.45 L199.60,255.42 L200.60,255.38 L201.60,255.34 L202.60,255.29 L203.60,255.25 L204.60,255.20 L205.60,255.14 L206.60,255.09 L207.60,255.03 L208.60,254.96 L209.60,254.89 L210.60,254.82 L211.60,254.74 L212.60,254.65 L213.60,254.56 L214.60,254.46 L215.60,254.35 L216.60,254.22 L217.60,254.08 L218.60,253.92 L219.60,253.74 L220.60,253.54 L221.60,253.34 L222.60,253.12 L223.60,252.89 L224.60,252.66 L225.60,252.40 L226.60,252.12 L227.60,251.83 L228.60,251.52 L229.60,251.20 L230.60,250.87 L231.60,250.53 L232.60,250.19 L233.60,249.83 L234.60,249.45 L235.60,249.06 L236.60,248.66 L237.60,248.24 L238.60,247.81 L239.60,247.37 L240.60,246.94 L241.60,246.49 L242.60,246.04 L243.60,245.58 L244.60,245.12 L245.60,244.66 L246.60,244.18 L247.60,243.70 L248.60,243.20 L249.60,242.68 L250.60,242.16 L251.60,241.62 L252.60,241.07 L253.60,240.52 L254.60,239.96 L255.60,239.40 L256.60,238.82 L257.60,238.24 L258.60,237.65 L259.60,237.04 L260.60,236.43 L261.60,235.80 L262.60,235.17 L263.60,234.52 L264.60,233.87 L265.60,233.21 L266.60,232.54 L267.60,231.87 L268.60,231.19 L269.60,230.51 L270.60,229.81 L271.60,229.11 L272.60,228.41 L273.60,227.70 L274.60,226.99 L275.60,226.28 L276.60,225.58 L277.60,224.87 L278.60,224.16 L279.60,223.45 L280.60,222.74 L281.60,222.03 L282.00,221.74" fill="none" stroke="#1a1a1a" stroke-width="1.0" stroke-dasharray="4.2 2" opacity="1.0"/>
<path d="M272.00,228.83 L273.00,228.13 L274.00,227.42 L275.00,226.71 L276.00,226.00 L277.00,225.29 L278.00,224.59 L279.00,223.88 L280.00,223.17 L281.00,222.46 L282.00,221.74 L283.00,221.02 L284.00,220.30 L285.00,219.58 L286.00,218.85 L287.00,218.12 L288.00,217.39 L289.00,216.66 L290.00,215.91 L291.00,215.16 L292.00,214.40 L293.00,213.62 L294.00,212.84 L295.00,212.04 L296.00,211.23 L297.00,210.42 L298.00,209.61 L299.00,208.80 L300.00,208.00 L301.00,207.20 L302.00,206.40 L303.00,205.61 L304.00,204.81 L305.00,204.01 L306.00,203.21 L307.00,202.41 L308.00,201.61 L309.00,200.81 L310.00,200.00 L311.00,199.19 L312.00,198.38 L313.00,197.56 L314.00,196.75 L315.00,195.93 L316.00,195.11 L317.00,194.29 L318.00,193.47 L319.00,192.64 L320.00,191.82 L321.00,190.99 L322.00,190.16 L323.00,189.33 L324.00,188.50 L325.00,187.67 L326.00,186.83 L327.00,185.99 L328.00,185.16 L329.00,184.32 L330.00,183.47 L331.00,182.63 L332.00,181.79 L333.00,180.94 L334.00,180.09 L335.00,179.25 L336.00,178.40 L337.00,177.55 L338.00,176.70 L339.00,175.85 L340.00,175.00 L341.00,174.15 L342.00,173.30 L343.00,172.44 L344.00,171.59 L345.00,170.74 L346.00,169.88 L347.00,169.03 L348.00,168.17 L349.00,167.31 L350.00,166.46 L351.00,165.60 L352.00,164.74 L353.00,163.88 L354.00,163.02 L355.00,162.16 L356.00,161.30 L357.00,160.44 L358.00,159.58 L359.00,158.71 L360.00,157.85 L361.00,156.99 L362.00,156.13 L363.00,155.26 L364.00,154.40 L365.00,153.54 L366.00,152.67 L367.00,151.81 L368.00,150.94 L369.00,150.08 L370.00,149.21 L371.00,148.34 L372.00,147.48 L373.00,146.61 L374.00,145.74 L375.00,144.87 L376.00,144.00 L377.00,143.13 L378.00,142.26 L379.00,141.39 L380.00,140.52 L380.60,140.00" fill="none" stroke="#1a1a1a" stroke-width="1.35"  opacity="1.0"/>
</g>
<rect x="45.6" y="10.6" width="335.0" height="334.59999999999997" fill="none" stroke="#8c8c8c" stroke-width="1"/>
<path d="M45.60,345.2v-3.3M45.60,10.6v3.3M62.41,345.2v-3.3M62.41,10.6v3.3M72.24,345.2v-3.3M72.24,10.6v3.3M79.22,345.2v-3.3M79.22,10.6v3.3M84.63,345.2v-3.3M84.63,10.6v3.3M89.05,345.2v-3.3M89.05,10.6v3.3M92.78,345.2v-3.3M92.78,10.6v3.3M96.02,345.2v-3.3M96.02,10.6v3.3M98.88,345.2v-3.3M98.88,10.6v3.3M101.43,345.2v-3.3M101.43,10.6v3.3M118.24,345.2v-3.3M118.24,10.6v3.3M128.07,345.2v-3.3M128.07,10.6v3.3M135.05,345.2v-3.3M135.05,10.6v3.3M140.46,345.2v-3.3M140.46,10.6v3.3M144.88,345.2v-3.3M144.88,10.6v3.3M148.62,345.2v-3.3M148.62,10.6v3.3M151.86,345.2v-3.3M151.86,10.6v3.3M154.71,345.2v-3.3M154.71,10.6v3.3M157.27,345.2v-3.3M157.27,10.6v3.3M174.07,345.2v-3.3M174.07,10.6v3.3M183.91,345.2v-3.3M183.91,10.6v3.3M190.88,345.2v-3.3M190.88,10.6v3.3M196.29,345.2v-3.3M196.29,10.6v3.3M200.71,345.2v-3.3M200.71,10.6v3.3M204.45,345.2v-3.3M204.45,10.6v3.3M207.69,345.2v-3.3M207.69,10.6v3.3M210.55,345.2v-3.3M210.55,10.6v3.3M213.10,345.2v-3.3M213.10,10.6v3.3M229.91,345.2v-3.3M229.91,10.6v3.3M239.74,345.2v-3.3M239.74,10.6v3.3M246.72,345.2v-3.3M246.72,10.6v3.3M252.13,345.2v-3.3M252.13,10.6v3.3M256.55,345.2v-3.3M256.55,10.6v3.3M260.28,345.2v-3.3M260.28,10.6v3.3M263.52,345.2v-3.3M263.52,10.6v3.3M266.38,345.2v-3.3M266.38,10.6v3.3M268.93,345.2v-3.3M268.93,10.6v3.3M285.74,345.2v-3.3M285.74,10.6v3.3M295.57,345.2v-3.3M295.57,10.6v3.3M302.55,345.2v-3.3M302.55,10.6v3.3M307.96,345.2v-3.3M307.96,10.6v3.3M312.38,345.2v-3.3M312.38,10.6v3.3M316.12,345.2v-3.3M316.12,10.6v3.3M319.36,345.2v-3.3M319.36,10.6v3.3M322.21,345.2v-3.3M322.21,10.6v3.3M324.77,345.2v-3.3M324.77,10.6v3.3M341.57,345.2v-3.3M341.57,10.6v3.3M351.41,345.2v-3.3M351.41,10.6v3.3M358.38,345.2v-3.3M358.38,10.6v3.3M363.79,345.2v-3.3M363.79,10.6v3.3M368.21,345.2v-3.3M368.21,10.6v3.3M371.95,345.2v-3.3M371.95,10.6v3.3M375.19,345.2v-3.3M375.19,10.6v3.3M378.05,345.2v-3.3M378.05,10.6v3.3M380.60,345.2v-3.3M380.60,10.6v3.3M45.6,345.20h3.3M380.6,345.20h-3.3M45.6,330.81h3.3M380.6,330.81h-3.3M45.6,322.39h3.3M380.6,322.39h-3.3M45.6,316.42h3.3M380.6,316.42h-3.3M45.6,311.79h3.3M380.6,311.79h-3.3M45.6,308.00h3.3M380.6,308.00h-3.3M45.6,304.80h3.3M380.6,304.80h-3.3M45.6,302.03h3.3M380.6,302.03h-3.3M45.6,299.59h3.3M380.6,299.59h-3.3M45.6,297.40h3.3M380.6,297.40h-3.3M45.6,283.01h3.3M380.6,283.01h-3.3M45.6,274.59h3.3M380.6,274.59h-3.3M45.6,268.62h3.3M380.6,268.62h-3.3M45.6,263.99h3.3M380.6,263.99h-3.3M45.6,260.20h3.3M380.6,260.20h-3.3M45.6,257.00h3.3M380.6,257.00h-3.3M45.6,254.23h3.3M380.6,254.23h-3.3M45.6,251.79h3.3M380.6,251.79h-3.3M45.6,249.60h3.3M380.6,249.60h-3.3M45.6,235.21h3.3M380.6,235.21h-3.3M45.6,226.79h3.3M380.6,226.79h-3.3M45.6,220.82h3.3M380.6,220.82h-3.3M45.6,216.19h3.3M380.6,216.19h-3.3M45.6,212.40h3.3M380.6,212.40h-3.3M45.6,209.20h3.3M380.6,209.20h-3.3M45.6,206.43h3.3M380.6,206.43h-3.3M45.6,203.99h3.3M380.6,203.99h-3.3M45.6,201.80h3.3M380.6,201.80h-3.3M45.6,187.41h3.3M380.6,187.41h-3.3M45.6,178.99h3.3M380.6,178.99h-3.3M45.6,173.02h3.3M380.6,173.02h-3.3M45.6,168.39h3.3M380.6,168.39h-3.3M45.6,164.60h3.3M380.6,164.60h-3.3M45.6,161.40h3.3M380.6,161.40h-3.3M45.6,158.63h3.3M380.6,158.63h-3.3M45.6,156.19h3.3M380.6,156.19h-3.3M45.6,154.00h3.3M380.6,154.00h-3.3M45.6,139.61h3.3M380.6,139.61h-3.3M45.6,131.19h3.3M380.6,131.19h-3.3M45.6,125.22h3.3M380.6,125.22h-3.3M45.6,120.59h3.3M380.6,120.59h-3.3M45.6,116.80h3.3M380.6,116.80h-3.3M45.6,113.60h3.3M380.6,113.60h-3.3M45.6,110.83h3.3M380.6,110.83h-3.3M45.6,108.39h3.3M380.6,108.39h-3.3M45.6,106.20h3.3M380.6,106.20h-3.3M45.6,91.81h3.3M380.6,91.81h-3.3M45.6,83.39h3.3M380.6,83.39h-3.3M45.6,77.42h3.3M380.6,77.42h-3.3M45.6,72.79h3.3M380.6,72.79h-3.3M45.6,69.00h3.3M380.6,69.00h-3.3M45.6,65.80h3.3M380.6,65.80h-3.3M45.6,63.03h3.3M380.6,63.03h-3.3M45.6,60.59h3.3M380.6,60.59h-3.3M45.6,58.40h3.3M380.6,58.40h-3.3M45.6,44.01h3.3M380.6,44.01h-3.3M45.6,35.59h3.3M380.6,35.59h-3.3M45.6,29.62h3.3M380.6,29.62h-3.3M45.6,24.99h3.3M380.6,24.99h-3.3M45.6,21.20h3.3M380.6,21.20h-3.3M45.6,18.00h3.3M380.6,18.00h-3.3M45.6,15.23h3.3M380.6,15.23h-3.3M45.6,12.79h3.3M380.6,12.79h-3.3M45.6,10.60h3.3M380.6,10.60h-3.3" stroke="#8c8c8c" stroke-width="0.9" fill="none"/>
<rect x="286.3" y="234.00" width="16.8" height="2.8" fill="#ED3D5E"/>
<rect x="286.3" y="250.90" width="16.8" height="2.8" fill="#806CFF"/>
<rect x="286.3" y="267.60" width="16.8" height="2.8" fill="#5CCCFF"/>
<rect x="286.3" y="284.30" width="16.8" height="2.8" fill="#3DEB1C"/>
<rect x="286.3" y="301.20" width="16.8" height="2.8" fill="#FF8C1E"/>
<rect x="286.3" y="318.10" width="16.8" height="2.8" fill="#1a1a1a"/>
</svg>
<div class="t yl" style="left:-17.3px;top:339.50px">10<sup>&minus;8</sup></div>
<div class="t yl" style="left:-17.3px;top:291.70px">10<sup>&minus;7</sup></div>
<div class="t yl" style="left:-17.3px;top:243.90px">10<sup>&minus;6</sup></div>
<div class="t yl" style="left:-17.3px;top:196.10px">10<sup>&minus;5</sup></div>
<div class="t yl" style="left:-17.3px;top:148.30px">10<sup>&minus;4</sup></div>
<div class="t yl" style="left:-17.3px;top:100.50px">10<sup>&minus;3</sup></div>
<div class="t yl" style="left:-17.3px;top:52.70px">10<sup>&minus;2</sup></div>
<div class="t yl" style="left:-17.3px;top:4.90px">10<sup>&minus;1</sup></div>
<div class="t xl" style="left:15.90px;top:349.10px">10<sup>&minus;6</sup></div>
<div class="t xl" style="left:71.73px;top:349.10px">10<sup>&minus;5</sup></div>
<div class="t xl" style="left:127.57px;top:349.10px">10<sup>&minus;4</sup></div>
<div class="t xl" style="left:183.40px;top:349.10px">10<sup>&minus;3</sup></div>
<div class="t xl" style="left:239.23px;top:349.10px">10<sup>&minus;2</sup></div>
<div class="t xl" style="left:295.07px;top:349.10px">10<sup>&minus;1</sup></div>
<div class="t xl" style="left:350.90px;top:349.10px">10<sup>0</sup></div>
<div class="t lg" style="top:228.10px">G2 (Ge)</div>
<div class="t lg" style="top:245.00px">G2 (Si)</div>
<div class="t lg" style="top:261.70px">G2 (Xe)</div>
<div class="t lg" style="top:278.40px">Future (Xe)</div>
<div class="t lg" style="top:295.30px">Future (Ar)</div>
<div class="t lg" style="top:312.20px">Future (Ne)</div>
<div class="t" style="left:184.2px;top:369.7px;font-size:14px"><i>m</i><sub style="font-size:9.5px;font-style:italic;vertical-align:baseline;position:relative;top:3px">Z'</sub> [GeV]</div>
<div class="t" style="left:2.2px;top:171.1px;width:14px;height:14px;font-size:13.3px;transform:rotate(-90deg);transform-origin:center;text-align:center">g</div>
<div class="t sans" style="left:84.7px;top:26.0px;font-size:18.9px">Vector</div>
<div class="t sans" style="left:92.10px;top:49.33px;font-size:17.2px;letter-spacing:0px;font-style:italic;">g</div>
<div class="t sans" style="left:101.00px;top:56.99px;font-size:11.2px;letter-spacing:0px;font-style:italic;">&nu;,Z'</div>
<div class="t sans" style="left:123.40px;top:51.93px;font-size:14.4px;letter-spacing:0px;">=</div>
<div class="t sans" style="left:138.40px;top:49.33px;font-size:17.2px;letter-spacing:0px;font-style:italic;">g</div>
<div class="t sans" style="left:147.40px;top:56.99px;font-size:11.2px;letter-spacing:0px;font-style:italic;">q,v</div>
<div class="t sans" style="left:168.20px;top:50.33px;font-size:14.4px;letter-spacing:0px;">,</div>
<div class="t sans" style="left:177.30px;top:49.33px;font-size:17.2px;letter-spacing:0px;font-style:italic;">g</div>
<div class="t sans" style="left:186.60px;top:56.99px;font-size:11.2px;letter-spacing:0px;font-style:italic;">q,a</div>
<div class="t sans" style="left:206.80px;top:51.93px;font-size:14.4px;letter-spacing:0px;">=</div>
<div class="t sans" style="left:220.60px;top:50.33px;font-size:14.4px;letter-spacing:0px;">0</div>
</div></body></html>
